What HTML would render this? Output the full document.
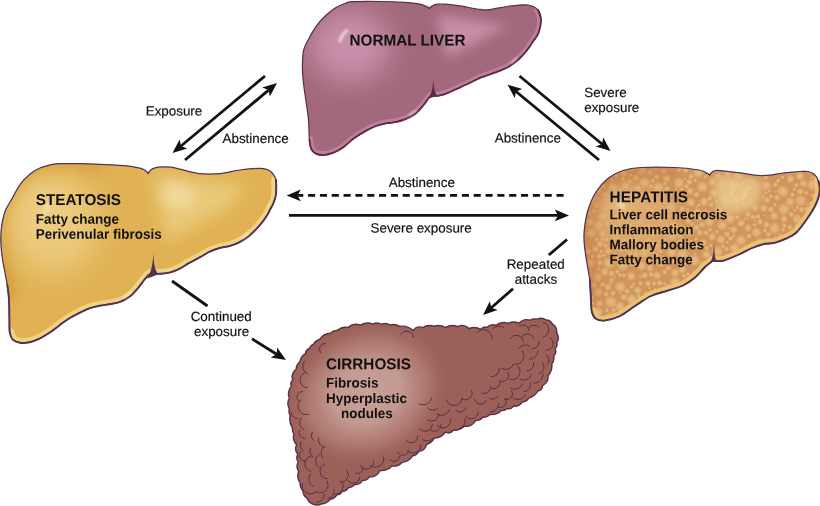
<!DOCTYPE html>
<html><head><meta charset="utf-8"><title>Alcoholic liver disease</title>
<style>
html,body{margin:0;padding:0;background:#fff;}
svg{display:block}
text{font-family:"Liberation Sans",Arial,Helvetica,sans-serif;fill:#111}
.h{font-weight:bold;font-size:15.3px}
.b{font-weight:bold;font-size:13.5px}
.l{font-size:13.4px;stroke:#111;stroke-width:0.18px}
</style></head><body>
<svg width="820" height="506" viewBox="0 0 820 506" style="will-change:transform">
<defs>
<radialGradient id="gC1" gradientUnits="userSpaceOnUse" cx="0" cy="0" r="1" gradientTransform="translate(367 393) rotate(-25) scale(88 73)"><stop offset="0" stop-color="#c9a199"/><stop offset="0.4" stop-color="#c39990"/><stop offset="0.7" stop-color="#b07b72" stop-opacity="0.85"/><stop offset="1" stop-color="#9b6058" stop-opacity="0"/></radialGradient>
<radialGradient id="sp"><stop offset="0" stop-color="#e4ba7e"/><stop offset="0.4" stop-color="#e2b67a" stop-opacity="0.95"/><stop offset="0.75" stop-color="#deae72" stop-opacity="0.55"/><stop offset="1" stop-color="#d9a468" stop-opacity="0"/></radialGradient>
<clipPath id="cN"><path d="M429.6 8.6 C430.2 8.1 431.8 6.1 433.0 5.4 C434.2 4.7 435.0 4.4 437.0 4.2 C439.0 4.0 441.2 3.9 445.0 4.2 C448.8 4.5 454.2 5.0 460.0 5.9 C465.8 6.8 475.0 8.8 480.0 9.4 C485.0 10.0 485.0 10.2 490.0 9.6 C495.0 9.0 503.7 6.8 510.0 6.0 C516.3 5.2 523.3 4.3 528.0 5.0 C532.7 5.7 535.8 7.5 538.0 10.0 C540.2 12.5 540.9 16.2 541.0 20.0 C541.1 23.8 539.8 29.4 538.5 33.0 C537.2 36.6 534.9 38.6 533.0 41.5 C531.1 44.4 529.3 47.4 527.0 50.3 C524.7 53.2 522.0 56.3 519.0 59.0 C516.0 61.7 512.2 64.5 509.0 66.5 C505.8 68.5 502.7 69.6 499.5 70.9 C496.3 72.2 493.2 73.2 490.0 74.3 C486.8 75.4 483.3 76.4 480.0 77.8 C476.7 79.2 473.5 81.1 470.0 82.8 C466.5 84.5 462.3 86.4 459.0 87.9 C455.7 89.4 452.5 90.9 450.0 92.0 C447.5 93.1 446.0 93.7 444.0 94.3 C442.0 94.9 440.0 95.6 438.0 95.8 C436.0 96.0 433.0 95.5 432.0 95.5 C431.5 95.8 430.4 95.9 429.0 97.6 C427.6 99.2 425.6 102.7 423.3 105.4 C421.0 108.1 418.4 111.5 415.4 113.8 C412.4 116.1 408.8 117.8 405.5 119.2 C402.2 120.6 398.9 121.5 395.6 122.2 C392.3 122.9 389.1 122.7 385.8 123.3 C382.5 123.9 379.6 124.6 376.0 126.0 C372.4 127.4 368.3 129.5 364.5 131.6 C360.7 133.7 356.8 136.2 353.3 138.8 C349.8 141.4 346.7 144.9 343.4 147.2 C340.1 149.5 336.8 151.4 333.5 152.7 C330.2 154.0 326.6 154.9 323.7 155.1 C320.8 155.2 317.9 154.6 315.8 153.6 C313.7 152.6 312.4 151.3 311.3 149.0 C310.2 146.7 309.9 144.4 309.4 139.6 C308.9 134.8 309.1 126.6 308.5 120.0 C307.9 113.4 306.7 106.5 305.8 100.0 C304.9 93.5 303.8 86.8 303.2 81.0 C302.6 75.2 302.3 70.2 302.4 65.0 C302.5 59.8 302.7 54.2 303.7 50.0 C304.7 45.8 306.2 43.7 308.3 39.7 C310.4 35.7 313.4 30.2 316.3 26.1 C319.2 22.0 322.7 18.4 326.0 15.3 C329.3 12.2 332.6 9.5 335.9 7.5 C339.2 5.5 342.8 4.2 345.6 3.2 C348.5 2.2 347.3 2.0 353.0 1.7 C358.7 1.4 371.3 1.4 380.0 1.5 C388.7 1.6 398.8 2.0 405.0 2.4 C411.2 2.8 413.8 3.2 417.0 3.7 C420.2 4.2 421.9 4.6 424.0 5.4 C426.1 6.2 428.7 8.1 429.6 8.6 Z"/></clipPath>
<clipPath id="cS"><path d="M148.0 173.3 C148.5 172.7 149.8 170.7 151.0 169.8 C152.2 168.9 153.2 168.3 155.0 167.8 C156.8 167.3 159.3 167.0 162.0 166.9 C164.7 166.8 167.8 166.8 171.0 167.2 C174.2 167.6 176.2 168.2 181.0 169.3 C185.8 170.4 193.5 172.9 200.0 173.6 C206.5 174.3 213.3 174.2 220.0 173.6 C226.7 173.0 233.3 170.9 240.0 170.0 C246.7 169.1 255.0 168.2 260.0 168.4 C265.0 168.6 267.3 169.1 270.0 171.0 C272.7 172.9 275.0 176.2 276.0 180.0 C277.0 183.8 276.4 190.2 276.0 194.0 C275.6 197.8 274.5 200.4 273.5 203.0 C272.5 205.6 271.1 207.5 270.0 209.6 C268.9 211.7 268.8 212.7 267.0 215.5 C265.2 218.3 262.0 222.8 259.0 226.2 C256.0 229.6 252.3 233.3 249.0 236.0 C245.7 238.7 242.4 240.6 239.2 242.3 C235.9 244.0 232.8 245.1 229.5 246.0 C226.2 246.9 223.0 247.1 219.7 248.0 C216.4 248.9 213.1 250.2 209.8 251.7 C206.5 253.2 203.4 255.3 200.0 257.2 C196.6 259.1 192.7 261.0 189.3 262.9 C185.9 264.8 182.7 267.2 179.4 268.8 C176.1 270.4 172.8 271.9 169.5 272.7 C166.2 273.5 162.1 273.6 159.6 273.8 C157.1 274.0 155.8 273.7 154.5 273.6 C153.2 273.5 152.0 273.4 151.5 273.3 C151.0 273.6 149.5 274.2 148.3 275.3 C147.1 276.4 146.0 277.7 144.2 280.0 C142.4 282.3 139.8 286.1 137.3 288.9 C134.8 291.7 132.4 294.6 129.4 296.8 C126.4 299.0 122.8 301.0 119.5 302.2 C116.2 303.4 112.9 303.6 109.6 304.2 C106.3 304.8 103.1 305.0 99.8 305.7 C96.5 306.4 93.2 307.0 89.9 308.2 C86.6 309.4 83.5 310.9 80.0 312.6 C76.5 314.3 72.5 316.4 69.1 318.5 C65.6 320.6 62.6 323.0 59.3 325.4 C56.0 327.8 52.7 330.6 49.4 332.8 C46.1 335.0 42.8 337.1 39.5 338.7 C36.2 340.3 32.9 341.5 29.6 342.2 C26.3 342.9 22.6 343.1 19.8 342.7 C17.0 342.3 14.5 341.4 12.8 339.7 C11.1 338.0 10.4 335.9 9.8 332.6 C9.2 329.3 9.5 325.2 9.4 319.8 C9.3 314.4 9.3 305.8 9.0 300.0 C8.7 294.2 8.1 290.0 7.3 285.0 C6.5 280.0 5.3 274.5 4.5 270.0 C3.7 265.5 2.8 261.7 2.3 258.0 C1.8 254.3 1.4 251.2 1.2 248.0 C0.9 244.8 0.8 242.0 0.8 239.0 C0.8 236.0 0.9 233.2 1.2 230.0 C1.5 226.8 2.0 223.3 2.7 220.0 C3.4 216.7 4.3 213.1 5.6 210.0 C6.9 206.9 8.0 205.6 10.5 201.3 C13.0 197.0 17.1 188.7 20.4 184.1 C23.7 179.5 26.9 176.6 30.1 173.9 C33.4 171.2 36.6 169.5 39.9 168.0 C43.1 166.5 46.4 165.8 49.6 165.1 C52.9 164.4 54.3 163.8 59.4 163.6 C64.5 163.4 73.2 163.6 80.0 163.7 C86.8 163.8 93.3 164.0 100.0 164.3 C106.7 164.6 114.8 165.0 120.0 165.3 C125.2 165.6 127.7 165.8 131.0 166.3 C134.3 166.8 137.7 167.5 140.0 168.2 C142.3 168.9 143.7 169.5 145.0 170.3 C146.3 171.2 147.5 172.8 148.0 173.3 Z"/></clipPath>
<clipPath id="cH"><path d="M709.5 175.0 C710.0 174.5 711.4 172.6 712.5 171.8 C713.6 171.1 713.6 170.6 716.0 170.5 C718.4 170.4 723.0 170.9 727.0 171.3 C731.0 171.7 736.2 172.3 740.0 172.8 C743.8 173.3 746.7 174.0 750.0 174.4 C753.3 174.8 756.7 175.4 760.0 175.5 C763.3 175.6 766.7 175.5 770.0 175.2 C773.3 174.9 776.7 174.0 780.0 173.5 C783.3 173.0 786.7 172.6 790.0 172.3 C793.3 172.0 797.0 171.6 800.0 171.5 C803.0 171.4 805.6 171.0 808.0 171.5 C810.4 172.0 812.8 172.9 814.5 174.5 C816.2 176.1 817.6 178.6 818.5 181.0 C819.4 183.4 819.8 186.2 819.8 189.0 C819.8 191.8 819.2 195.0 818.3 198.0 C817.4 201.0 816.2 203.8 814.5 207.0 C812.8 210.2 811.0 213.2 808.0 217.5 C805.0 221.8 800.2 228.9 796.4 232.5 C792.6 236.1 789.1 237.2 785.4 238.9 C781.7 240.6 778.0 242.0 774.3 242.9 C770.6 243.8 766.9 243.3 763.2 244.2 C759.5 245.0 756.1 246.3 752.1 248.0 C748.1 249.7 743.7 252.4 739.0 254.5 C734.3 256.6 727.7 259.4 724.0 260.5 C720.3 261.6 718.8 261.0 717.0 261.0 C715.2 261.0 713.7 260.6 713.0 260.5 C711.7 261.6 708.0 264.2 705.0 267.0 C702.0 269.8 698.7 274.4 695.0 277.5 C691.3 280.6 687.7 283.3 683.0 285.5 C678.3 287.7 672.3 289.1 667.0 290.8 C661.7 292.6 656.3 293.5 651.0 296.0 C645.7 298.5 640.3 302.6 635.0 306.0 C629.7 309.4 624.2 314.1 619.0 316.5 C613.8 318.9 607.9 320.3 604.0 320.6 C600.1 320.9 597.5 320.0 595.5 318.5 C593.5 317.0 592.5 314.6 591.8 311.5 C591.0 308.4 591.3 305.2 591.0 300.0 C590.7 294.8 590.6 286.7 589.8 280.0 C589.0 273.3 587.3 266.2 586.4 260.0 C585.5 253.8 584.6 248.0 584.2 243.0 C583.9 238.0 583.7 235.5 584.3 230.0 C584.9 224.5 586.0 216.3 588.0 210.0 C590.0 203.7 592.6 197.3 596.0 192.0 C599.4 186.7 604.0 181.6 608.5 178.0 C613.0 174.4 617.6 172.2 623.0 170.5 C628.4 168.8 632.3 168.0 641.0 167.5 C649.7 167.0 665.3 167.1 675.0 167.5 C684.7 167.9 694.0 169.2 699.0 170.0 C704.0 170.8 703.2 171.2 705.0 172.0 C706.8 172.8 708.8 174.5 709.5 175.0 Z"/></clipPath>
<clipPath id="cC"><path d="M413.0 330.5 A8.8 8.8 0 0 1 422.9 327.5 A12.6 12.6 0 0 1 433.9 326.2 A13.4 13.4 0 0 1 445.4 327.5 A14.9 14.9 0 0 1 457.9 326.6 A9.1 9.1 0 0 1 468.9 328.6 A14.7 14.7 0 0 1 480.9 329.3 A5.2 5.2 0 0 1 486.8 327.4 A8.8 8.8 0 0 1 495.8 325.3 A13.5 13.5 0 0 1 508.2 323.4 A12.8 12.8 0 0 1 518.8 323.2 A11.4 11.4 0 0 1 530.3 320.2 A8.3 8.3 0 0 1 537.0 319.2 A9.7 9.7 0 0 1 546.2 320.0 A7.1 7.1 0 0 1 552.5 324.2 A9.2 9.2 0 0 1 556.7 333.0 A8.7 8.7 0 0 1 556.6 342.9 A5.1 5.1 0 0 1 555.1 348.8 A6.5 6.5 0 0 1 553.6 356.2 A8.8 8.8 0 0 1 551.8 363.9 A15.5 15.5 0 0 1 548.0 375.7 A9.9 9.9 0 0 1 542.5 385.6 A5.8 5.8 0 0 1 537.8 391.0 A14.4 14.4 0 0 1 528.7 398.1 A7.2 7.2 0 0 1 522.7 401.7 A10.1 10.1 0 0 1 513.4 406.3 A6.2 6.2 0 0 1 507.0 408.6 A6.4 6.4 0 0 1 501.3 410.5 A14.2 14.2 0 0 1 489.8 414.5 A7.5 7.5 0 0 1 482.9 417.1 A7.4 7.4 0 0 1 476.0 420.3 A10.6 10.6 0 0 1 464.5 426.0 A14.6 14.6 0 0 1 453.2 430.2 A6.5 6.5 0 0 1 445.4 432.2 A12.9 12.9 0 0 1 434.2 437.9 A11.5 11.5 0 0 1 426.7 444.2 A9.2 9.2 0 0 1 418.7 451.4 A8.4 8.4 0 0 1 412.7 455.8 A15.4 15.4 0 0 1 402.0 462.4 A11.7 11.7 0 0 1 391.9 466.0 A14.7 14.7 0 0 1 380.0 470.5 A10.4 10.4 0 0 1 369.4 476.8 A8.1 8.1 0 0 1 362.3 480.5 A7.4 7.4 0 0 1 354.7 484.4 A8.5 8.5 0 0 1 348.3 487.7 A6.5 6.5 0 0 1 342.3 491.2 A6.5 6.5 0 0 1 336.9 494.9 A10.1 10.1 0 0 1 330.2 499.4 A12.0 12.0 0 0 1 321.1 504.0 A7.4 7.4 0 0 1 315.2 504.7 A10.6 10.6 0 0 1 307.0 498.2 A8.5 8.5 0 0 1 303.0 490.9 A9.2 9.2 0 0 1 300.3 483.1 A11.9 11.9 0 0 1 298.7 471.5 A8.7 8.7 0 0 1 298.2 462.2 A8.1 8.1 0 0 1 297.8 454.0 A8.1 8.1 0 0 1 296.7 444.7 A10.6 10.6 0 0 1 294.0 434.1 A8.0 8.0 0 0 1 292.5 427.9 A15.8 15.8 0 0 1 290.3 415.3 A6.7 6.7 0 0 1 289.4 409.1 A11.5 11.5 0 0 1 289.4 398.0 A11.3 11.3 0 0 1 291.4 386.2 A5.1 5.1 0 0 1 292.6 380.2 A10.6 10.6 0 0 1 296.2 369.3 A9.9 9.9 0 0 1 300.1 361.7 A12.0 12.0 0 0 1 305.6 353.3 A5.8 5.8 0 0 1 309.4 348.5 A7.3 7.3 0 0 1 313.8 344.0 A8.3 8.3 0 0 1 319.5 339.5 A14.1 14.1 0 0 1 330.5 333.2 A8.1 8.1 0 0 1 337.4 330.4 A12.9 12.9 0 0 1 348.2 327.4 A12.0 12.0 0 0 1 360.5 325.1 A14.1 14.1 0 0 1 373.1 324.2 A7.8 7.8 0 0 1 381.5 324.4 A8.6 8.6 0 0 1 389.9 325.1 A11.1 11.1 0 0 1 399.5 326.4 A15.7 15.7 0 0 1 413.0 330.5 Z"/></clipPath>
<filter id="b16" x="-50%" y="-50%" width="200%" height="200%"><feGaussianBlur stdDeviation="14"/></filter>
<filter id="b6" x="-50%" y="-50%" width="200%" height="200%"><feGaussianBlur stdDeviation="6"/></filter>
<filter id="b8" x="-50%" y="-50%" width="200%" height="200%"><feGaussianBlur stdDeviation="7.5"/></filter>
<filter id="b2" x="-100%" y="-100%" width="300%" height="300%"><feGaussianBlur stdDeviation="2"/></filter>
<filter id="b1" x="-50%" y="-50%" width="200%" height="200%"><feGaussianBlur stdDeviation="0.9"/></filter>
</defs>
<rect width="820" height="506" fill="#fff"/>

<!-- normal liver -->
<g>
<path d="M429.6 8.6 C430.2 8.1 431.8 6.1 433.0 5.4 C434.2 4.7 435.0 4.4 437.0 4.2 C439.0 4.0 441.2 3.9 445.0 4.2 C448.8 4.5 454.2 5.0 460.0 5.9 C465.8 6.8 475.0 8.8 480.0 9.4 C485.0 10.0 485.0 10.2 490.0 9.6 C495.0 9.0 503.7 6.8 510.0 6.0 C516.3 5.2 523.3 4.3 528.0 5.0 C532.7 5.7 535.8 7.5 538.0 10.0 C540.2 12.5 540.9 16.2 541.0 20.0 C541.1 23.8 539.8 29.4 538.5 33.0 C537.2 36.6 534.9 38.6 533.0 41.5 C531.1 44.4 529.3 47.4 527.0 50.3 C524.7 53.2 522.0 56.3 519.0 59.0 C516.0 61.7 512.2 64.5 509.0 66.5 C505.8 68.5 502.7 69.6 499.5 70.9 C496.3 72.2 493.2 73.2 490.0 74.3 C486.8 75.4 483.3 76.4 480.0 77.8 C476.7 79.2 473.5 81.1 470.0 82.8 C466.5 84.5 462.3 86.4 459.0 87.9 C455.7 89.4 452.5 90.9 450.0 92.0 C447.5 93.1 446.0 93.7 444.0 94.3 C442.0 94.9 440.0 95.6 438.0 95.8 C436.0 96.0 433.0 95.5 432.0 95.5 C431.5 95.8 430.4 95.9 429.0 97.6 C427.6 99.2 425.6 102.7 423.3 105.4 C421.0 108.1 418.4 111.5 415.4 113.8 C412.4 116.1 408.8 117.8 405.5 119.2 C402.2 120.6 398.9 121.5 395.6 122.2 C392.3 122.9 389.1 122.7 385.8 123.3 C382.5 123.9 379.6 124.6 376.0 126.0 C372.4 127.4 368.3 129.5 364.5 131.6 C360.7 133.7 356.8 136.2 353.3 138.8 C349.8 141.4 346.7 144.9 343.4 147.2 C340.1 149.5 336.8 151.4 333.5 152.7 C330.2 154.0 326.6 154.9 323.7 155.1 C320.8 155.2 317.9 154.6 315.8 153.6 C313.7 152.6 312.4 151.3 311.3 149.0 C310.2 146.7 309.9 144.4 309.4 139.6 C308.9 134.8 309.1 126.6 308.5 120.0 C307.9 113.4 306.7 106.5 305.8 100.0 C304.9 93.5 303.8 86.8 303.2 81.0 C302.6 75.2 302.3 70.2 302.4 65.0 C302.5 59.8 302.7 54.2 303.7 50.0 C304.7 45.8 306.2 43.7 308.3 39.7 C310.4 35.7 313.4 30.2 316.3 26.1 C319.2 22.0 322.7 18.4 326.0 15.3 C329.3 12.2 332.6 9.5 335.9 7.5 C339.2 5.5 342.8 4.2 345.6 3.2 C348.5 2.2 347.3 2.0 353.0 1.7 C358.7 1.4 371.3 1.4 380.0 1.5 C388.7 1.6 398.8 2.0 405.0 2.4 C411.2 2.8 413.8 3.2 417.0 3.7 C420.2 4.2 421.9 4.6 424.0 5.4 C426.1 6.2 428.7 8.1 429.6 8.6 Z" fill="#a2687b"/>
<g clip-path="url(#cN)">
<ellipse cx="350" cy="46" rx="40" ry="36" fill="#c990ab" filter="url(#b16)"/>
<path d="M436 14 L508 26 L447 58 Z" fill="#c68ea8" filter="url(#b6)"/>
<path d="M538.0 10.0 C538.5 11.7 540.9 16.2 541.0 20.0 C541.1 23.8 539.8 29.4 538.5 33.0 C537.2 36.6 534.9 38.6 533.0 41.5 C531.1 44.4 529.3 47.4 527.0 50.3 C524.7 53.2 522.0 56.3 519.0 59.0 C516.0 61.7 512.2 64.5 509.0 66.5 C505.8 68.5 502.7 69.6 499.5 70.9 C496.3 72.2 493.2 73.2 490.0 74.3 C486.8 75.4 483.3 76.4 480.0 77.8 C476.7 79.2 473.5 81.1 470.0 82.8 C466.5 84.5 462.3 86.4 459.0 87.9 C455.7 89.4 452.5 90.9 450.0 92.0 C447.5 93.1 446.0 93.7 444.0 94.3 C442.0 94.9 440.0 95.6 438.0 95.8 C436.0 96.0 433.0 95.5 432.0 95.5" fill="none" stroke="#bf7f9c" stroke-width="7.5" stroke-linecap="round"/><path d="M432.0 95.5 C431.5 95.8 430.4 95.9 429.0 97.6 C427.6 99.2 425.6 102.7 423.3 105.4 C421.0 108.1 418.4 111.5 415.4 113.8 C412.4 116.1 408.8 117.8 405.5 119.2 C402.2 120.6 398.9 121.5 395.6 122.2 C392.3 122.9 389.1 122.7 385.8 123.3 C382.5 123.9 379.6 124.6 376.0 126.0 C372.4 127.4 368.3 129.5 364.5 131.6 C360.7 133.7 356.8 136.2 353.3 138.8 C349.8 141.4 346.7 144.9 343.4 147.2 C340.1 149.5 336.8 151.4 333.5 152.7 C330.2 154.0 326.6 154.9 323.7 155.1 C320.8 155.2 317.9 154.6 315.8 153.6 C313.7 152.6 312.4 151.3 311.3 149.0 C310.2 146.7 309.7 141.2 309.4 139.6" fill="none" stroke="#bf7f9c" stroke-width="7.5" stroke-linecap="round"/></g>
<path d="M426.4 5.0 Q428.8 6.0 429.8 9.6 Q430.2 5.8 433.2 4.4 Q430.4 5.2 429.6 7.4 Q428.8 5.8 426.4 5.0Z" fill="#5e2c48"/><path d="M433.7 78 C433.8 86 434 92 437.5 96 L428.5 98.5 C432 93 433 86 433.7 78Z" fill="#5e2c48"/>
<path d="M429.6 8.6 C430.2 8.1 431.8 6.1 433.0 5.4 C434.2 4.7 435.0 4.4 437.0 4.2 C439.0 4.0 441.2 3.9 445.0 4.2 C448.8 4.5 454.2 5.0 460.0 5.9 C465.8 6.8 475.0 8.8 480.0 9.4 C485.0 10.0 485.0 10.2 490.0 9.6 C495.0 9.0 503.7 6.8 510.0 6.0 C516.3 5.2 523.3 4.3 528.0 5.0 C532.7 5.7 535.8 7.5 538.0 10.0 C540.2 12.5 540.9 16.2 541.0 20.0 C541.1 23.8 539.8 29.4 538.5 33.0 C537.2 36.6 534.9 38.6 533.0 41.5 C531.1 44.4 529.3 47.4 527.0 50.3 C524.7 53.2 522.0 56.3 519.0 59.0 C516.0 61.7 512.2 64.5 509.0 66.5 C505.8 68.5 502.7 69.6 499.5 70.9 C496.3 72.2 493.2 73.2 490.0 74.3 C486.8 75.4 483.3 76.4 480.0 77.8 C476.7 79.2 473.5 81.1 470.0 82.8 C466.5 84.5 462.3 86.4 459.0 87.9 C455.7 89.4 452.5 90.9 450.0 92.0 C447.5 93.1 446.0 93.7 444.0 94.3 C442.0 94.9 440.0 95.6 438.0 95.8 C436.0 96.0 433.0 95.5 432.0 95.5 C431.5 95.8 430.4 95.9 429.0 97.6 C427.6 99.2 425.6 102.7 423.3 105.4 C421.0 108.1 418.4 111.5 415.4 113.8 C412.4 116.1 408.8 117.8 405.5 119.2 C402.2 120.6 398.9 121.5 395.6 122.2 C392.3 122.9 389.1 122.7 385.8 123.3 C382.5 123.9 379.6 124.6 376.0 126.0 C372.4 127.4 368.3 129.5 364.5 131.6 C360.7 133.7 356.8 136.2 353.3 138.8 C349.8 141.4 346.7 144.9 343.4 147.2 C340.1 149.5 336.8 151.4 333.5 152.7 C330.2 154.0 326.6 154.9 323.7 155.1 C320.8 155.2 317.9 154.6 315.8 153.6 C313.7 152.6 312.4 151.3 311.3 149.0 C310.2 146.7 309.9 144.4 309.4 139.6 C308.9 134.8 309.1 126.6 308.5 120.0 C307.9 113.4 306.7 106.5 305.8 100.0 C304.9 93.5 303.8 86.8 303.2 81.0 C302.6 75.2 302.3 70.2 302.4 65.0 C302.5 59.8 302.7 54.2 303.7 50.0 C304.7 45.8 306.2 43.7 308.3 39.7 C310.4 35.7 313.4 30.2 316.3 26.1 C319.2 22.0 322.7 18.4 326.0 15.3 C329.3 12.2 332.6 9.5 335.9 7.5 C339.2 5.5 342.8 4.2 345.6 3.2 C348.5 2.2 347.3 2.0 353.0 1.7 C358.7 1.4 371.3 1.4 380.0 1.5 C388.7 1.6 398.8 2.0 405.0 2.4 C411.2 2.8 413.8 3.2 417.0 3.7 C420.2 4.2 421.9 4.6 424.0 5.4 C426.1 6.2 428.7 8.1 429.6 8.6 Z" fill="none" stroke="#5e2c48" stroke-width="1.2" stroke-linejoin="round"/>
<path d="M538.0 10.0 C538.5 11.7 540.9 16.2 541.0 20.0 C541.1 23.8 539.8 29.4 538.5 33.0 C537.2 36.6 534.9 38.6 533.0 41.5 C531.1 44.4 529.3 47.4 527.0 50.3 C524.7 53.2 522.0 56.3 519.0 59.0 C516.0 61.7 512.2 64.5 509.0 66.5 C505.8 68.5 502.7 69.6 499.5 70.9 C496.3 72.2 493.2 73.2 490.0 74.3 C486.8 75.4 483.3 76.4 480.0 77.8 C476.7 79.2 473.5 81.1 470.0 82.8 C466.5 84.5 462.3 86.4 459.0 87.9 C455.7 89.4 452.5 90.9 450.0 92.0 C447.5 93.1 446.0 93.7 444.0 94.3 C442.0 94.9 440.0 95.6 438.0 95.8 C436.0 96.0 433.0 95.5 432.0 95.5" fill="none" stroke="#5e2c48" stroke-width="1.8" stroke-linecap="round"/><path d="M432.0 95.5 C431.5 95.8 430.4 95.9 429.0 97.6 C427.6 99.2 425.6 102.7 423.3 105.4 C421.0 108.1 418.4 111.5 415.4 113.8 C412.4 116.1 408.8 117.8 405.5 119.2 C402.2 120.6 398.9 121.5 395.6 122.2 C392.3 122.9 389.1 122.7 385.8 123.3 C382.5 123.9 379.6 124.6 376.0 126.0 C372.4 127.4 368.3 129.5 364.5 131.6 C360.7 133.7 356.8 136.2 353.3 138.8 C349.8 141.4 346.7 144.9 343.4 147.2 C340.1 149.5 336.8 151.4 333.5 152.7 C330.2 154.0 326.6 154.9 323.7 155.1 C320.8 155.2 317.9 154.6 315.8 153.6 C313.7 152.6 312.4 151.3 311.3 149.0 C310.2 146.7 309.7 141.2 309.4 139.6" fill="none" stroke="#5e2c48" stroke-width="1.8" stroke-linecap="round"/>
<path d="M340 41 C341.2 36.5 343.5 33 346.8 30.8" fill="none" stroke="#ebccd9" stroke-width="3.2" stroke-linecap="round" filter="url(#b1)"/>
<path d="M511.5 63.3 L516.3 58" fill="none" stroke="#e3bccb" stroke-width="1.6" stroke-linecap="round" filter="url(#b1)"/>
<path d="M409.5 115 L415.5 110.5" fill="none" stroke="#e3bccb" stroke-width="1.6" stroke-linecap="round" filter="url(#b1)"/>
</g>

<!-- steatosis -->
<g>
<path d="M148.0 173.3 C148.5 172.7 149.8 170.7 151.0 169.8 C152.2 168.9 153.2 168.3 155.0 167.8 C156.8 167.3 159.3 167.0 162.0 166.9 C164.7 166.8 167.8 166.8 171.0 167.2 C174.2 167.6 176.2 168.2 181.0 169.3 C185.8 170.4 193.5 172.9 200.0 173.6 C206.5 174.3 213.3 174.2 220.0 173.6 C226.7 173.0 233.3 170.9 240.0 170.0 C246.7 169.1 255.0 168.2 260.0 168.4 C265.0 168.6 267.3 169.1 270.0 171.0 C272.7 172.9 275.0 176.2 276.0 180.0 C277.0 183.8 276.4 190.2 276.0 194.0 C275.6 197.8 274.5 200.4 273.5 203.0 C272.5 205.6 271.1 207.5 270.0 209.6 C268.9 211.7 268.8 212.7 267.0 215.5 C265.2 218.3 262.0 222.8 259.0 226.2 C256.0 229.6 252.3 233.3 249.0 236.0 C245.7 238.7 242.4 240.6 239.2 242.3 C235.9 244.0 232.8 245.1 229.5 246.0 C226.2 246.9 223.0 247.1 219.7 248.0 C216.4 248.9 213.1 250.2 209.8 251.7 C206.5 253.2 203.4 255.3 200.0 257.2 C196.6 259.1 192.7 261.0 189.3 262.9 C185.9 264.8 182.7 267.2 179.4 268.8 C176.1 270.4 172.8 271.9 169.5 272.7 C166.2 273.5 162.1 273.6 159.6 273.8 C157.1 274.0 155.8 273.7 154.5 273.6 C153.2 273.5 152.0 273.4 151.5 273.3 C151.0 273.6 149.5 274.2 148.3 275.3 C147.1 276.4 146.0 277.7 144.2 280.0 C142.4 282.3 139.8 286.1 137.3 288.9 C134.8 291.7 132.4 294.6 129.4 296.8 C126.4 299.0 122.8 301.0 119.5 302.2 C116.2 303.4 112.9 303.6 109.6 304.2 C106.3 304.8 103.1 305.0 99.8 305.7 C96.5 306.4 93.2 307.0 89.9 308.2 C86.6 309.4 83.5 310.9 80.0 312.6 C76.5 314.3 72.5 316.4 69.1 318.5 C65.6 320.6 62.6 323.0 59.3 325.4 C56.0 327.8 52.7 330.6 49.4 332.8 C46.1 335.0 42.8 337.1 39.5 338.7 C36.2 340.3 32.9 341.5 29.6 342.2 C26.3 342.9 22.6 343.1 19.8 342.7 C17.0 342.3 14.5 341.4 12.8 339.7 C11.1 338.0 10.4 335.9 9.8 332.6 C9.2 329.3 9.5 325.2 9.4 319.8 C9.3 314.4 9.3 305.8 9.0 300.0 C8.7 294.2 8.1 290.0 7.3 285.0 C6.5 280.0 5.3 274.5 4.5 270.0 C3.7 265.5 2.8 261.7 2.3 258.0 C1.8 254.3 1.4 251.2 1.2 248.0 C0.9 244.8 0.8 242.0 0.8 239.0 C0.8 236.0 0.9 233.2 1.2 230.0 C1.5 226.8 2.0 223.3 2.7 220.0 C3.4 216.7 4.3 213.1 5.6 210.0 C6.9 206.9 8.0 205.6 10.5 201.3 C13.0 197.0 17.1 188.7 20.4 184.1 C23.7 179.5 26.9 176.6 30.1 173.9 C33.4 171.2 36.6 169.5 39.9 168.0 C43.1 166.5 46.4 165.8 49.6 165.1 C52.9 164.4 54.3 163.8 59.4 163.6 C64.5 163.4 73.2 163.6 80.0 163.7 C86.8 163.8 93.3 164.0 100.0 164.3 C106.7 164.6 114.8 165.0 120.0 165.3 C125.2 165.6 127.7 165.8 131.0 166.3 C134.3 166.8 137.7 167.5 140.0 168.2 C142.3 168.9 143.7 169.5 145.0 170.3 C146.3 171.2 147.5 172.8 148.0 173.3 Z" fill="#e0b254"/>
<g clip-path="url(#cS)">
<path d="M9.0 300.0 C8.7 297.5 8.1 290.0 7.3 285.0 C6.5 280.0 5.3 274.5 4.5 270.0 C3.7 265.5 2.8 261.7 2.3 258.0 C1.8 254.3 1.4 251.2 1.2 248.0 C0.9 244.8 0.8 242.0 0.8 239.0 C0.8 236.0 0.9 233.2 1.2 230.0 C1.5 226.8 2.0 223.3 2.7 220.0 C3.4 216.7 4.3 213.1 5.6 210.0 C6.9 206.9 8.0 205.6 10.5 201.3 C13.0 197.0 17.1 188.7 20.4 184.1 C23.7 179.5 26.9 176.6 30.1 173.9 C33.4 171.2 36.6 169.5 39.9 168.0 C43.1 166.5 46.4 165.8 49.6 165.1 C52.9 164.4 54.3 163.8 59.4 163.6 C64.5 163.4 73.2 163.6 80.0 163.7 C86.8 163.8 96.7 164.2 100.0 164.3" fill="none" stroke="#d39a38" stroke-width="16" opacity="0.75" filter="url(#b6)"/>
<ellipse cx="54" cy="224" rx="46" ry="50" fill="#ebc97c" filter="url(#b16)"/>
<ellipse cx="46" cy="214" rx="22" ry="26" fill="#edcf88" opacity="0.8" filter="url(#b16)"/>
<path d="M152 174 L246 185 L230 206 L167 242 Z" fill="#e9c978" filter="url(#b8)"/>
<ellipse cx="178" cy="196" rx="17" ry="12" fill="#f1d99c" filter="url(#b6)" transform="rotate(15 178 196)"/>
<ellipse cx="46.5" cy="208.5" rx="2" ry="5" fill="#f8e9c2" opacity="0.85" filter="url(#b2)" transform="rotate(12 46.5 208.5)"/>
<path d="M276.0 180.0 C276.0 182.3 276.4 190.2 276.0 194.0 C275.6 197.8 274.5 200.4 273.5 203.0 C272.5 205.6 271.1 207.5 270.0 209.6 C268.9 211.7 268.8 212.7 267.0 215.5 C265.2 218.3 262.0 222.8 259.0 226.2 C256.0 229.6 252.3 233.3 249.0 236.0 C245.7 238.7 242.4 240.6 239.2 242.3 C235.9 244.0 232.8 245.1 229.5 246.0 C226.2 246.9 223.0 247.1 219.7 248.0 C216.4 248.9 213.1 250.2 209.8 251.7 C206.5 253.2 203.4 255.3 200.0 257.2 C196.6 259.1 192.7 261.0 189.3 262.9 C185.9 264.8 182.7 267.2 179.4 268.8 C176.1 270.4 172.8 271.9 169.5 272.7 C166.2 273.5 162.1 273.6 159.6 273.8 C157.1 274.0 155.8 273.7 154.5 273.6 C153.2 273.5 152.0 273.4 151.5 273.3" fill="none" stroke="#efd383" stroke-width="9.5" stroke-linecap="round"/><path d="M151.5 273.3 C151.0 273.6 149.5 274.2 148.3 275.3 C147.1 276.4 146.0 277.7 144.2 280.0 C142.4 282.3 139.8 286.1 137.3 288.9 C134.8 291.7 132.4 294.6 129.4 296.8 C126.4 299.0 122.8 301.0 119.5 302.2 C116.2 303.4 112.9 303.6 109.6 304.2 C106.3 304.8 103.1 305.0 99.8 305.7 C96.5 306.4 93.2 307.0 89.9 308.2 C86.6 309.4 83.5 310.9 80.0 312.6 C76.5 314.3 72.5 316.4 69.1 318.5 C65.6 320.6 62.6 323.0 59.3 325.4 C56.0 327.8 52.7 330.6 49.4 332.8 C46.1 335.0 42.8 337.1 39.5 338.7 C36.2 340.3 32.9 341.5 29.6 342.2 C26.3 342.9 22.6 343.1 19.8 342.7 C17.0 342.3 14.5 341.4 12.8 339.7 C11.1 338.0 10.3 333.8 9.8 332.6" fill="none" stroke="#efd383" stroke-width="9.5" stroke-linecap="round"/></g>
<path d="M144.8 170.3 Q147.2 171.3 148.2 174.9 Q148.6 171.1 151.6 169.7 Q148.8 170.5 148.0 172.7 Q147.2 171.1 144.8 170.3Z" fill="#523256"/><path d="M153.5 253.3 C153.8 263 154.5 270 158.5 274.3 L147 278.8 C151.5 272 152.8 263 153.5 253.3Z" fill="#523256"/>
<path d="M148.0 173.3 C148.5 172.7 149.8 170.7 151.0 169.8 C152.2 168.9 153.2 168.3 155.0 167.8 C156.8 167.3 159.3 167.0 162.0 166.9 C164.7 166.8 167.8 166.8 171.0 167.2 C174.2 167.6 176.2 168.2 181.0 169.3 C185.8 170.4 193.5 172.9 200.0 173.6 C206.5 174.3 213.3 174.2 220.0 173.6 C226.7 173.0 233.3 170.9 240.0 170.0 C246.7 169.1 255.0 168.2 260.0 168.4 C265.0 168.6 267.3 169.1 270.0 171.0 C272.7 172.9 275.0 176.2 276.0 180.0 C277.0 183.8 276.4 190.2 276.0 194.0 C275.6 197.8 274.5 200.4 273.5 203.0 C272.5 205.6 271.1 207.5 270.0 209.6 C268.9 211.7 268.8 212.7 267.0 215.5 C265.2 218.3 262.0 222.8 259.0 226.2 C256.0 229.6 252.3 233.3 249.0 236.0 C245.7 238.7 242.4 240.6 239.2 242.3 C235.9 244.0 232.8 245.1 229.5 246.0 C226.2 246.9 223.0 247.1 219.7 248.0 C216.4 248.9 213.1 250.2 209.8 251.7 C206.5 253.2 203.4 255.3 200.0 257.2 C196.6 259.1 192.7 261.0 189.3 262.9 C185.9 264.8 182.7 267.2 179.4 268.8 C176.1 270.4 172.8 271.9 169.5 272.7 C166.2 273.5 162.1 273.6 159.6 273.8 C157.1 274.0 155.8 273.7 154.5 273.6 C153.2 273.5 152.0 273.4 151.5 273.3 C151.0 273.6 149.5 274.2 148.3 275.3 C147.1 276.4 146.0 277.7 144.2 280.0 C142.4 282.3 139.8 286.1 137.3 288.9 C134.8 291.7 132.4 294.6 129.4 296.8 C126.4 299.0 122.8 301.0 119.5 302.2 C116.2 303.4 112.9 303.6 109.6 304.2 C106.3 304.8 103.1 305.0 99.8 305.7 C96.5 306.4 93.2 307.0 89.9 308.2 C86.6 309.4 83.5 310.9 80.0 312.6 C76.5 314.3 72.5 316.4 69.1 318.5 C65.6 320.6 62.6 323.0 59.3 325.4 C56.0 327.8 52.7 330.6 49.4 332.8 C46.1 335.0 42.8 337.1 39.5 338.7 C36.2 340.3 32.9 341.5 29.6 342.2 C26.3 342.9 22.6 343.1 19.8 342.7 C17.0 342.3 14.5 341.4 12.8 339.7 C11.1 338.0 10.4 335.9 9.8 332.6 C9.2 329.3 9.5 325.2 9.4 319.8 C9.3 314.4 9.3 305.8 9.0 300.0 C8.7 294.2 8.1 290.0 7.3 285.0 C6.5 280.0 5.3 274.5 4.5 270.0 C3.7 265.5 2.8 261.7 2.3 258.0 C1.8 254.3 1.4 251.2 1.2 248.0 C0.9 244.8 0.8 242.0 0.8 239.0 C0.8 236.0 0.9 233.2 1.2 230.0 C1.5 226.8 2.0 223.3 2.7 220.0 C3.4 216.7 4.3 213.1 5.6 210.0 C6.9 206.9 8.0 205.6 10.5 201.3 C13.0 197.0 17.1 188.7 20.4 184.1 C23.7 179.5 26.9 176.6 30.1 173.9 C33.4 171.2 36.6 169.5 39.9 168.0 C43.1 166.5 46.4 165.8 49.6 165.1 C52.9 164.4 54.3 163.8 59.4 163.6 C64.5 163.4 73.2 163.6 80.0 163.7 C86.8 163.8 93.3 164.0 100.0 164.3 C106.7 164.6 114.8 165.0 120.0 165.3 C125.2 165.6 127.7 165.8 131.0 166.3 C134.3 166.8 137.7 167.5 140.0 168.2 C142.3 168.9 143.7 169.5 145.0 170.3 C146.3 171.2 147.5 172.8 148.0 173.3 Z" fill="none" stroke="#523256" stroke-width="1.25" stroke-linejoin="round"/>
<path d="M276.0 180.0 C276.0 182.3 276.4 190.2 276.0 194.0 C275.6 197.8 274.5 200.4 273.5 203.0 C272.5 205.6 271.1 207.5 270.0 209.6 C268.9 211.7 268.8 212.7 267.0 215.5 C265.2 218.3 262.0 222.8 259.0 226.2 C256.0 229.6 252.3 233.3 249.0 236.0 C245.7 238.7 242.4 240.6 239.2 242.3 C235.9 244.0 232.8 245.1 229.5 246.0 C226.2 246.9 223.0 247.1 219.7 248.0 C216.4 248.9 213.1 250.2 209.8 251.7 C206.5 253.2 203.4 255.3 200.0 257.2 C196.6 259.1 192.7 261.0 189.3 262.9 C185.9 264.8 182.7 267.2 179.4 268.8 C176.1 270.4 172.8 271.9 169.5 272.7 C166.2 273.5 162.1 273.6 159.6 273.8 C157.1 274.0 155.8 273.7 154.5 273.6 C153.2 273.5 152.0 273.4 151.5 273.3" fill="none" stroke="#523256" stroke-width="1.9" stroke-linecap="round"/><path d="M151.5 273.3 C151.0 273.6 149.5 274.2 148.3 275.3 C147.1 276.4 146.0 277.7 144.2 280.0 C142.4 282.3 139.8 286.1 137.3 288.9 C134.8 291.7 132.4 294.6 129.4 296.8 C126.4 299.0 122.8 301.0 119.5 302.2 C116.2 303.4 112.9 303.6 109.6 304.2 C106.3 304.8 103.1 305.0 99.8 305.7 C96.5 306.4 93.2 307.0 89.9 308.2 C86.6 309.4 83.5 310.9 80.0 312.6 C76.5 314.3 72.5 316.4 69.1 318.5 C65.6 320.6 62.6 323.0 59.3 325.4 C56.0 327.8 52.7 330.6 49.4 332.8 C46.1 335.0 42.8 337.1 39.5 338.7 C36.2 340.3 32.9 341.5 29.6 342.2 C26.3 342.9 22.6 343.1 19.8 342.7 C17.0 342.3 14.5 341.4 12.8 339.7 C11.1 338.0 10.4 335.9 9.8 332.6 C9.2 329.3 9.5 325.2 9.4 319.8 C9.3 314.4 9.3 305.8 9.0 300.0 C8.7 294.2 7.6 287.5 7.3 285.0" fill="none" stroke="#523256" stroke-width="1.9" stroke-linecap="round"/>
<path d="M242 238.3 L248.5 233.3" fill="none" stroke="#f8ecc0" stroke-width="1.6" stroke-linecap="round" filter="url(#b1)"/>
<path d="M124.5 297.5 L131.5 291.5" fill="none" stroke="#f8ecc0" stroke-width="1.6" stroke-linecap="round" filter="url(#b1)"/>
</g>

<!-- hepatitis -->
<g>
<path d="M709.5 175.0 C710.0 174.5 711.4 172.6 712.5 171.8 C713.6 171.1 713.6 170.6 716.0 170.5 C718.4 170.4 723.0 170.9 727.0 171.3 C731.0 171.7 736.2 172.3 740.0 172.8 C743.8 173.3 746.7 174.0 750.0 174.4 C753.3 174.8 756.7 175.4 760.0 175.5 C763.3 175.6 766.7 175.5 770.0 175.2 C773.3 174.9 776.7 174.0 780.0 173.5 C783.3 173.0 786.7 172.6 790.0 172.3 C793.3 172.0 797.0 171.6 800.0 171.5 C803.0 171.4 805.6 171.0 808.0 171.5 C810.4 172.0 812.8 172.9 814.5 174.5 C816.2 176.1 817.6 178.6 818.5 181.0 C819.4 183.4 819.8 186.2 819.8 189.0 C819.8 191.8 819.2 195.0 818.3 198.0 C817.4 201.0 816.2 203.8 814.5 207.0 C812.8 210.2 811.0 213.2 808.0 217.5 C805.0 221.8 800.2 228.9 796.4 232.5 C792.6 236.1 789.1 237.2 785.4 238.9 C781.7 240.6 778.0 242.0 774.3 242.9 C770.6 243.8 766.9 243.3 763.2 244.2 C759.5 245.0 756.1 246.3 752.1 248.0 C748.1 249.7 743.7 252.4 739.0 254.5 C734.3 256.6 727.7 259.4 724.0 260.5 C720.3 261.6 718.8 261.0 717.0 261.0 C715.2 261.0 713.7 260.6 713.0 260.5 C711.7 261.6 708.0 264.2 705.0 267.0 C702.0 269.8 698.7 274.4 695.0 277.5 C691.3 280.6 687.7 283.3 683.0 285.5 C678.3 287.7 672.3 289.1 667.0 290.8 C661.7 292.6 656.3 293.5 651.0 296.0 C645.7 298.5 640.3 302.6 635.0 306.0 C629.7 309.4 624.2 314.1 619.0 316.5 C613.8 318.9 607.9 320.3 604.0 320.6 C600.1 320.9 597.5 320.0 595.5 318.5 C593.5 317.0 592.5 314.6 591.8 311.5 C591.0 308.4 591.3 305.2 591.0 300.0 C590.7 294.8 590.6 286.7 589.8 280.0 C589.0 273.3 587.3 266.2 586.4 260.0 C585.5 253.8 584.6 248.0 584.2 243.0 C583.9 238.0 583.7 235.5 584.3 230.0 C584.9 224.5 586.0 216.3 588.0 210.0 C590.0 203.7 592.6 197.3 596.0 192.0 C599.4 186.7 604.0 181.6 608.5 178.0 C613.0 174.4 617.6 172.2 623.0 170.5 C628.4 168.8 632.3 168.0 641.0 167.5 C649.7 167.0 665.3 167.1 675.0 167.5 C684.7 167.9 694.0 169.2 699.0 170.0 C704.0 170.8 703.2 171.2 705.0 172.0 C706.8 172.8 708.8 174.5 709.5 175.0 Z" fill="#d1945c"/>
<g clip-path="url(#cH)">
<ellipse cx="622" cy="205" rx="20" ry="15" fill="#ecd098" opacity="0.8" filter="url(#b6)"/>
<path d="M715 178 L762 182 L754 206 L722 214 Z" fill="#ecce94" filter="url(#b6)"/>
<g fill="url(#sp)"><circle cx="658.2" cy="187.7" r="6.6"/><circle cx="803.2" cy="269.6" r="5.8"/><circle cx="696.4" cy="274.7" r="6.1"/><circle cx="611.2" cy="199.4" r="6.7"/><circle cx="671.8" cy="252.7" r="5.8"/><circle cx="698.2" cy="172.8" r="6.2"/><circle cx="620.3" cy="287.1" r="6.0"/><circle cx="700.0" cy="312.9" r="6.4"/><circle cx="655.0" cy="165.6" r="6.3"/><circle cx="738.0" cy="193.2" r="6.3"/><circle cx="598.4" cy="225.8" r="6.0"/><circle cx="797.1" cy="219.1" r="5.6"/><circle cx="598.4" cy="311.7" r="5.6"/><circle cx="731.0" cy="273.0" r="6.3"/><circle cx="670.6" cy="206.9" r="6.9"/><circle cx="732.6" cy="162.9" r="6.6"/><circle cx="619.8" cy="213.6" r="6.8"/><circle cx="638.2" cy="205.4" r="6.8"/><circle cx="709.1" cy="265.2" r="6.3"/><circle cx="589.5" cy="186.1" r="6.3"/><circle cx="590.3" cy="262.8" r="5.7"/><circle cx="660.7" cy="293.0" r="6.8"/><circle cx="675.1" cy="282.2" r="6.2"/><circle cx="747.2" cy="316.7" r="5.5"/><circle cx="776.5" cy="266.1" r="6.8"/><circle cx="764.1" cy="295.4" r="5.4"/><circle cx="597.4" cy="277.1" r="5.9"/><circle cx="690.2" cy="319.9" r="6.2"/><circle cx="641.7" cy="169.9" r="5.9"/><circle cx="591.5" cy="198.1" r="6.9"/><circle cx="719.4" cy="282.8" r="6.3"/><circle cx="709.4" cy="221.8" r="5.7"/><circle cx="597.9" cy="173.6" r="6.3"/><circle cx="602.8" cy="216.8" r="5.6"/><circle cx="721.8" cy="266.9" r="5.8"/><circle cx="717.4" cy="251.7" r="6.9"/><circle cx="769.0" cy="252.0" r="6.7"/><circle cx="702.4" cy="186.9" r="6.5"/><circle cx="789.6" cy="237.7" r="6.6"/><circle cx="631.7" cy="299.3" r="6.1"/><circle cx="787.8" cy="255.8" r="5.6"/><circle cx="779.0" cy="294.6" r="5.8"/><circle cx="705.2" cy="302.2" r="6.8"/><circle cx="622.8" cy="196.4" r="6.2"/><circle cx="793.5" cy="285.9" r="5.8"/><circle cx="714.3" cy="193.2" r="5.9"/><circle cx="793.8" cy="304.8" r="5.7"/><circle cx="581.6" cy="275.5" r="5.9"/><circle cx="815.3" cy="284.8" r="6.5"/><circle cx="615.6" cy="234.6" r="5.9"/><circle cx="697.1" cy="212.7" r="5.4"/><circle cx="610.8" cy="317.7" r="6.4"/><circle cx="672.4" cy="235.6" r="5.8"/><circle cx="782.9" cy="191.3" r="7.0"/><circle cx="720.5" cy="322.8" r="5.5"/><circle cx="780.3" cy="249.8" r="6.1"/><circle cx="650.9" cy="307.6" r="5.6"/><circle cx="811.8" cy="219.6" r="6.1"/><circle cx="608.9" cy="263.3" r="6.9"/><circle cx="792.3" cy="266.4" r="6.9"/><circle cx="694.6" cy="260.3" r="6.6"/><circle cx="745.9" cy="294.6" r="5.6"/><circle cx="730.1" cy="218.5" r="6.4"/><circle cx="806.9" cy="255.6" r="6.9"/><circle cx="738.0" cy="175.7" r="6.1"/><circle cx="641.4" cy="265.9" r="5.8"/><circle cx="648.2" cy="210.1" r="6.6"/><circle cx="676.5" cy="306.4" r="6.9"/><circle cx="771.1" cy="320.4" r="6.4"/><circle cx="800.6" cy="200.4" r="6.6"/><circle cx="612.4" cy="187.3" r="5.7"/><circle cx="679.1" cy="183.0" r="6.1"/><circle cx="783.9" cy="209.3" r="6.9"/><circle cx="620.0" cy="306.8" r="5.9"/><circle cx="811.9" cy="236.5" r="6.7"/><circle cx="644.5" cy="252.3" r="6.7"/><circle cx="598.1" cy="292.3" r="5.5"/><circle cx="660.9" cy="262.3" r="5.7"/><circle cx="812.5" cy="185.1" r="6.5"/><circle cx="758.5" cy="303.4" r="5.8"/><circle cx="671.6" cy="163.6" r="5.7"/><circle cx="581.4" cy="219.4" r="6.6"/><circle cx="722.3" cy="225.6" r="5.9"/><circle cx="774.4" cy="228.4" r="6.7"/><circle cx="590.8" cy="232.9" r="6.1"/><circle cx="610.9" cy="302.0" r="7.0"/><circle cx="719.4" cy="209.6" r="5.5"/><circle cx="673.3" cy="225.9" r="5.8"/><circle cx="726.0" cy="190.6" r="5.7"/><circle cx="622.8" cy="265.1" r="7.0"/><circle cx="754.0" cy="170.1" r="6.1"/><circle cx="734.8" cy="248.0" r="5.9"/><circle cx="640.9" cy="221.8" r="5.6"/><circle cx="737.5" cy="319.1" r="6.6"/><circle cx="785.0" cy="315.7" r="6.5"/><circle cx="755.0" cy="250.4" r="6.2"/><circle cx="741.1" cy="240.5" r="6.3"/><circle cx="787.3" cy="170.1" r="6.2"/><circle cx="682.5" cy="254.1" r="6.9"/><circle cx="752.4" cy="193.6" r="6.6"/><circle cx="698.8" cy="293.0" r="6.6"/><circle cx="756.4" cy="232.5" r="5.6"/><circle cx="592.6" cy="322.0" r="5.5"/><circle cx="818.3" cy="266.9" r="5.6"/><circle cx="799.2" cy="165.9" r="6.5"/><circle cx="689.4" cy="231.1" r="6.4"/><circle cx="638.5" cy="311.6" r="5.9"/><circle cx="644.7" cy="182.3" r="6.1"/><circle cx="738.2" cy="207.8" r="6.1"/><circle cx="766.4" cy="185.6" r="5.4"/><circle cx="821.2" cy="184.5" r="4.0"/><circle cx="580.4" cy="315.7" r="4.5"/><circle cx="765.7" cy="260.9" r="4.1"/><circle cx="660.9" cy="318.0" r="4.3"/><circle cx="803.3" cy="278.8" r="5.2"/><circle cx="811.1" cy="293.4" r="3.9"/><circle cx="702.0" cy="224.5" r="3.6"/><circle cx="681.5" cy="227.6" r="3.5"/><circle cx="712.5" cy="274.8" r="4.5"/><circle cx="635.9" cy="254.4" r="3.6"/><circle cx="664.9" cy="304.9" r="3.9"/><circle cx="647.3" cy="242.0" r="5.0"/><circle cx="767.1" cy="200.0" r="4.0"/><circle cx="582.1" cy="247.0" r="4.7"/><circle cx="602.7" cy="233.9" r="4.2"/><circle cx="621.9" cy="164.6" r="3.5"/><circle cx="751.8" cy="182.2" r="5.0"/><circle cx="763.1" cy="166.7" r="3.8"/><circle cx="748.1" cy="227.9" r="4.3"/><circle cx="681.1" cy="242.7" r="5.2"/><circle cx="718.4" cy="176.2" r="3.8"/><circle cx="682.5" cy="269.7" r="4.7"/><circle cx="661.2" cy="208.2" r="3.7"/><circle cx="721.1" cy="275.1" r="3.5"/><circle cx="726.2" cy="298.0" r="5.1"/><circle cx="644.7" cy="275.2" r="3.9"/><circle cx="651.9" cy="200.7" r="4.8"/><circle cx="647.9" cy="283.5" r="3.6"/><circle cx="721.0" cy="239.4" r="5.2"/><circle cx="730.2" cy="198.5" r="3.6"/><circle cx="696.7" cy="227.7" r="3.7"/><circle cx="688.3" cy="305.1" r="4.7"/><circle cx="599.0" cy="256.2" r="3.6"/><circle cx="657.5" cy="217.3" r="4.2"/><circle cx="614.1" cy="162.1" r="4.0"/><circle cx="594.1" cy="285.0" r="4.1"/><circle cx="770.0" cy="171.9" r="3.8"/><circle cx="813.7" cy="166.9" r="4.0"/><circle cx="808.3" cy="304.7" r="4.5"/><circle cx="759.6" cy="271.4" r="4.1"/><circle cx="733.6" cy="229.6" r="4.5"/><circle cx="690.7" cy="202.4" r="5.2"/><circle cx="759.5" cy="242.1" r="5.2"/><circle cx="774.3" cy="216.0" r="4.9"/><circle cx="696.6" cy="245.8" r="4.5"/><circle cx="620.6" cy="248.6" r="4.6"/><circle cx="611.5" cy="273.8" r="3.6"/><circle cx="678.2" cy="216.6" r="3.6"/><circle cx="715.2" cy="315.4" r="4.5"/><circle cx="790.4" cy="179.1" r="4.7"/><circle cx="634.1" cy="214.1" r="4.4"/><circle cx="744.9" cy="303.6" r="4.3"/><circle cx="811.4" cy="246.5" r="4.7"/><circle cx="818.8" cy="322.6" r="4.8"/><circle cx="746.9" cy="200.5" r="3.6"/><circle cx="784.1" cy="218.8" r="4.0"/><circle cx="666.7" cy="178.5" r="4.7"/><circle cx="673.8" cy="292.4" r="5.1"/><circle cx="803.8" cy="239.0" r="3.8"/><circle cx="634.9" cy="247.8" r="4.4"/><circle cx="665.3" cy="246.0" r="4.9"/><circle cx="585.0" cy="298.6" r="3.7"/><circle cx="736.2" cy="261.9" r="4.2"/><circle cx="675.0" cy="272.8" r="4.9"/><circle cx="820.4" cy="226.7" r="4.4"/><circle cx="772.3" cy="285.5" r="3.7"/><circle cx="704.7" cy="276.9" r="4.7"/><circle cx="697.4" cy="162.1" r="4.7"/><circle cx="807.3" cy="209.3" r="3.6"/><circle cx="783.9" cy="303.3" r="5.3"/><circle cx="769.1" cy="311.7" r="3.5"/><circle cx="637.9" cy="188.5" r="4.2"/><circle cx="635.9" cy="177.5" r="3.6"/><circle cx="657.2" cy="275.5" r="4.7"/><circle cx="751.5" cy="283.1" r="5.1"/><circle cx="623.7" cy="297.2" r="4.0"/><circle cx="583.2" cy="169.7" r="4.3"/><circle cx="778.8" cy="274.4" r="3.8"/><circle cx="661.8" cy="196.2" r="4.0"/><circle cx="755.2" cy="266.7" r="3.8"/><circle cx="703.1" cy="283.8" r="3.9"/><circle cx="611.3" cy="169.8" r="5.0"/><circle cx="631.0" cy="276.2" r="4.9"/><circle cx="805.0" cy="227.3" r="4.5"/><circle cx="814.9" cy="259.8" r="4.2"/><circle cx="758.0" cy="289.5" r="4.3"/><circle cx="581.1" cy="237.1" r="5.0"/><circle cx="586.7" cy="206.2" r="4.5"/><circle cx="712.8" cy="181.9" r="4.8"/><circle cx="656.6" cy="176.7" r="3.6"/><circle cx="809.5" cy="316.1" r="5.1"/><circle cx="793.8" cy="245.6" r="3.7"/><circle cx="763.8" cy="208.2" r="4.7"/><circle cx="656.5" cy="245.8" r="4.9"/><circle cx="623.7" cy="239.8" r="3.5"/><circle cx="646.4" cy="295.3" r="4.6"/><circle cx="796.9" cy="258.2" r="4.1"/><circle cx="650.0" cy="268.1" r="4.1"/><circle cx="590.3" cy="222.1" r="5.0"/><circle cx="738.3" cy="283.1" r="4.4"/><circle cx="595.1" cy="249.1" r="4.1"/><circle cx="632.2" cy="262.9" r="4.3"/><circle cx="608.0" cy="287.3" r="3.9"/><circle cx="790.2" cy="201.7" r="5.2"/><circle cx="682.1" cy="209.0" r="3.5"/><circle cx="817.4" cy="275.9" r="3.9"/><circle cx="728.1" cy="320.2" r="4.3"/><circle cx="605.5" cy="162.8" r="5.2"/><circle cx="794.1" cy="315.6" r="4.1"/><circle cx="596.7" cy="205.2" r="3.6"/><circle cx="733.4" cy="306.8" r="4.1"/><circle cx="608.5" cy="250.8" r="4.2"/><circle cx="613.2" cy="226.8" r="4.4"/><circle cx="658.7" cy="231.4" r="5.1"/><circle cx="586.7" cy="285.6" r="4.0"/><circle cx="775.3" cy="311.4" r="4.2"/><circle cx="625.2" cy="185.7" r="5.0"/><circle cx="728.0" cy="173.4" r="4.2"/><circle cx="797.8" cy="230.8" r="4.9"/><circle cx="760.1" cy="221.9" r="3.6"/><circle cx="706.5" cy="167.8" r="5.2"/><circle cx="745.9" cy="252.3" r="3.6"/><circle cx="783.6" cy="283.2" r="3.6"/><circle cx="740.2" cy="273.7" r="5.2"/><circle cx="637.9" cy="235.5" r="4.3"/><circle cx="804.4" cy="247.1" r="3.7"/><circle cx="768.7" cy="272.8" r="4.9"/><circle cx="689.2" cy="181.8" r="3.6"/><circle cx="755.2" cy="207.8" r="4.3"/><circle cx="742.2" cy="163.2" r="4.4"/><circle cx="820.2" cy="194.7" r="3.5"/><circle cx="651.4" cy="317.5" r="5.0"/><circle cx="768.1" cy="242.0" r="4.9"/><circle cx="685.6" cy="170.1" r="3.8"/><circle cx="637.8" cy="290.3" r="4.5"/><circle cx="704.1" cy="323.3" r="5.0"/><circle cx="704.1" cy="201.7" r="5.2"/><circle cx="706.3" cy="254.7" r="5.0"/><circle cx="682.8" cy="199.3" r="4.8"/><circle cx="712.1" cy="236.8" r="4.5"/><circle cx="678.1" cy="317.1" r="4.9"/><circle cx="800.2" cy="191.4" r="3.9"/><circle cx="607.3" cy="208.2" r="4.0"/><circle cx="598.4" cy="189.5" r="4.8"/><circle cx="606.5" cy="223.5" r="3.8"/><circle cx="722.3" cy="163.6" r="5.2"/><circle cx="623.3" cy="230.6" r="4.7"/><circle cx="599.4" cy="303.2" r="4.1"/><circle cx="727.8" cy="256.9" r="4.0"/><circle cx="669.4" cy="320.6" r="3.7"/><circle cx="773.9" cy="163.0" r="4.0"/><circle cx="799.8" cy="176.0" r="5.1"/><circle cx="777.1" cy="197.7" r="3.6"/><circle cx="649.8" cy="172.5" r="3.8"/><circle cx="705.0" cy="211.6" r="3.5"/><circle cx="703.1" cy="242.7" r="4.2"/><circle cx="731.1" cy="284.3" r="4.0"/><circle cx="600.2" cy="244.0" r="3.9"/><circle cx="748.0" cy="214.1" r="3.6"/><circle cx="687.7" cy="283.8" r="4.3"/><circle cx="674.6" cy="261.3" r="3.9"/><circle cx="696.3" cy="194.4" r="3.5"/><circle cx="632.4" cy="167.3" r="4.8"/><circle cx="799.4" cy="297.5" r="5.2"/><circle cx="631.7" cy="225.5" r="4.5"/><circle cx="821.6" cy="162.1" r="4.8"/><circle cx="627.7" cy="315.9" r="4.6"/><circle cx="774.4" cy="303.0" r="4.8"/><circle cx="663.8" cy="170.8" r="4.3"/><circle cx="699.7" cy="232.8" r="3.6"/><circle cx="647.5" cy="227.0" r="4.8"/><circle cx="623.9" cy="172.6" r="5.2"/><circle cx="766.2" cy="224.8" r="3.8"/><circle cx="821.3" cy="217.1" r="4.5"/><circle cx="580.8" cy="176.4" r="4.4"/><circle cx="719.8" cy="302.6" r="3.6"/><circle cx="821.6" cy="309.5" r="3.7"/><circle cx="724.6" cy="313.0" r="4.9"/><circle cx="727.0" cy="234.1" r="3.6"/><circle cx="587.9" cy="251.6" r="4.0"/><circle cx="599.8" cy="262.9" r="3.5"/><circle cx="604.5" cy="271.8" r="4.9"/><circle cx="716.0" cy="307.8" r="4.0"/><circle cx="741.2" cy="223.2" r="4.5"/><circle cx="763.4" cy="282.3" r="5.1"/><circle cx="821.6" cy="237.8" r="4.3"/><circle cx="745.1" cy="262.3" r="3.6"/><circle cx="665.2" cy="226.3" r="4.0"/><circle cx="758.4" cy="320.6" r="5.1"/><circle cx="734.4" cy="299.5" r="3.7"/><circle cx="729.0" cy="206.5" r="5.0"/><circle cx="803.6" cy="183.4" r="4.7"/><circle cx="648.5" cy="260.0" r="4.0"/><circle cx="688.5" cy="221.2" r="3.6"/><circle cx="770.9" cy="209.4" r="3.8"/><circle cx="587.0" cy="163.0" r="4.1"/><circle cx="682.1" cy="288.3" r="3.8"/><circle cx="816.4" cy="176.2" r="3.8"/><circle cx="689.9" cy="191.1" r="4.2"/><circle cx="687.7" cy="215.0" r="4.0"/><circle cx="765.5" cy="177.6" r="3.0"/><circle cx="681.5" cy="300.7" r="2.1"/><circle cx="653.6" cy="253.0" r="2.1"/><circle cx="750.2" cy="272.6" r="2.3"/><circle cx="801.8" cy="209.7" r="3.3"/><circle cx="727.4" cy="242.6" r="2.1"/><circle cx="644.7" cy="199.0" r="3.0"/><circle cx="771.0" cy="196.1" r="2.8"/><circle cx="588.0" cy="309.1" r="2.6"/><circle cx="789.6" cy="280.3" r="2.3"/><circle cx="817.6" cy="202.8" r="2.9"/><circle cx="727.7" cy="182.8" r="3.2"/><circle cx="664.5" cy="283.6" r="2.2"/><circle cx="618.6" cy="222.4" r="2.9"/><circle cx="617.5" cy="271.6" r="2.5"/><circle cx="814.3" cy="209.6" r="3.1"/><circle cx="623.9" cy="275.4" r="2.5"/><circle cx="796.2" cy="185.2" r="2.8"/><circle cx="580.8" cy="190.8" r="3.3"/><circle cx="758.8" cy="261.9" r="2.2"/><circle cx="629.8" cy="181.4" r="2.6"/><circle cx="746.1" cy="270.7" r="2.4"/><circle cx="802.2" cy="310.8" r="3.1"/><circle cx="589.4" cy="213.2" r="3.0"/><circle cx="626.7" cy="221.5" r="3.2"/><circle cx="740.8" cy="256.5" r="2.7"/><circle cx="646.2" cy="233.5" r="3.3"/><circle cx="821.7" cy="169.5" r="2.1"/><circle cx="700.1" cy="218.3" r="2.3"/><circle cx="691.1" cy="176.5" r="3.2"/><circle cx="652.3" cy="234.7" r="3.0"/><circle cx="813.6" cy="195.9" r="2.9"/><circle cx="748.9" cy="236.1" r="3.1"/><circle cx="805.8" cy="290.7" r="3.0"/><circle cx="651.1" cy="274.3" r="3.0"/><circle cx="716.0" cy="270.3" r="2.4"/><circle cx="716.9" cy="231.7" r="2.2"/><circle cx="580.2" cy="252.6" r="2.4"/><circle cx="664.7" cy="272.0" r="3.0"/><circle cx="652.8" cy="180.6" r="2.8"/><circle cx="628.5" cy="307.6" r="3.1"/><circle cx="819.0" cy="243.0" r="2.4"/><circle cx="716.4" cy="201.5" r="2.4"/><circle cx="660.8" cy="221.7" r="2.2"/><circle cx="669.4" cy="215.9" r="2.1"/><circle cx="630.5" cy="205.5" r="2.4"/><circle cx="763.0" cy="197.2" r="2.1"/><circle cx="693.2" cy="218.1" r="2.0"/><circle cx="783.2" cy="163.0" r="2.8"/><circle cx="665.9" cy="218.3" r="2.0"/><circle cx="650.9" cy="186.1" r="2.4"/><circle cx="640.6" cy="283.4" r="2.8"/><circle cx="671.4" cy="193.3" r="2.7"/><circle cx="792.0" cy="323.9" r="2.6"/><circle cx="642.5" cy="194.5" r="2.7"/><circle cx="811.1" cy="322.6" r="3.0"/><circle cx="674.5" cy="199.8" r="2.1"/><circle cx="636.3" cy="240.3" r="2.0"/><circle cx="730.5" cy="238.5" r="3.0"/><circle cx="656.3" cy="322.1" r="3.3"/><circle cx="687.2" cy="293.2" r="2.1"/><circle cx="668.3" cy="268.1" r="3.0"/><circle cx="618.6" cy="322.8" r="2.5"/><circle cx="806.2" cy="193.1" r="2.6"/><circle cx="777.8" cy="283.9" r="2.4"/><circle cx="768.5" cy="234.3" r="3.2"/><circle cx="803.3" cy="315.9" r="2.4"/><circle cx="750.8" cy="258.2" r="3.2"/><circle cx="641.3" cy="245.0" r="3.2"/><circle cx="710.8" cy="245.5" r="2.2"/><circle cx="804.7" cy="219.7" r="2.7"/><circle cx="639.3" cy="214.1" r="2.2"/><circle cx="786.4" cy="287.2" r="2.3"/><circle cx="698.7" cy="205.1" r="2.0"/><circle cx="596.5" cy="183.8" r="2.3"/><circle cx="602.1" cy="239.3" r="2.1"/><circle cx="616.2" cy="175.7" r="2.8"/><circle cx="696.1" cy="239.1" r="2.2"/><circle cx="774.8" cy="277.7" r="2.4"/><circle cx="807.9" cy="162.5" r="2.5"/><circle cx="754.5" cy="225.1" r="2.5"/><circle cx="744.0" cy="186.9" r="2.7"/><circle cx="641.4" cy="302.8" r="3.1"/><circle cx="717.7" cy="290.4" r="2.4"/><circle cx="679.1" cy="194.1" r="2.5"/><circle cx="775.2" cy="245.2" r="2.3"/><circle cx="818.6" cy="254.9" r="2.8"/><circle cx="590.9" cy="168.4" r="3.0"/><circle cx="705.9" cy="232.9" r="3.2"/><circle cx="816.8" cy="303.9" r="2.9"/><circle cx="651.1" cy="292.2" r="2.5"/><circle cx="752.0" cy="299.5" r="2.3"/><circle cx="778.2" cy="180.7" r="2.9"/><circle cx="768.6" cy="162.1" r="2.7"/><circle cx="613.7" cy="243.1" r="2.7"/><circle cx="810.3" cy="203.0" r="2.1"/><circle cx="603.5" cy="185.8" r="2.8"/><circle cx="686.4" cy="298.0" r="2.4"/><circle cx="791.0" cy="296.1" r="3.3"/><circle cx="665.0" cy="183.7" r="2.1"/><circle cx="607.9" cy="192.8" r="2.1"/><circle cx="757.9" cy="216.7" r="3.1"/><circle cx="720.9" cy="259.9" r="2.7"/><circle cx="800.9" cy="285.1" r="2.6"/><circle cx="667.3" cy="286.4" r="2.6"/><circle cx="666.0" cy="314.0" r="2.3"/><circle cx="726.5" cy="249.1" r="2.8"/><circle cx="626.6" cy="249.7" r="2.7"/><circle cx="684.1" cy="263.3" r="3.0"/><circle cx="689.0" cy="311.2" r="2.2"/><circle cx="806.0" cy="286.0" r="2.2"/><circle cx="673.3" cy="313.0" r="2.1"/><circle cx="715.2" cy="218.1" r="3.0"/><circle cx="783.1" cy="229.9" r="2.5"/><circle cx="754.8" cy="311.5" r="2.0"/><circle cx="604.0" cy="194.4" r="2.7"/><circle cx="584.8" cy="193.1" r="2.3"/><circle cx="599.2" cy="320.8" r="2.8"/><circle cx="581.0" cy="183.9" r="2.0"/><circle cx="603.8" cy="255.5" r="2.4"/><circle cx="750.2" cy="164.2" r="2.4"/><circle cx="586.9" cy="178.2" r="2.6"/><circle cx="738.9" cy="183.0" r="2.3"/><circle cx="656.2" cy="313.4" r="2.4"/><circle cx="580.2" cy="260.8" r="3.0"/><circle cx="615.0" cy="254.4" r="2.8"/><circle cx="613.0" cy="293.2" r="3.0"/><circle cx="630.0" cy="238.7" r="3.3"/><circle cx="683.9" cy="276.0" r="2.8"/><circle cx="647.0" cy="162.2" r="3.1"/><circle cx="737.4" cy="217.2" r="2.8"/><circle cx="631.3" cy="287.0" r="2.3"/><circle cx="797.4" cy="207.5" r="2.3"/><circle cx="659.0" cy="305.1" r="2.2"/><circle cx="769.4" cy="191.0" r="2.0"/><circle cx="749.4" cy="205.6" r="2.6"/><circle cx="786.5" cy="274.7" r="3.1"/><circle cx="639.5" cy="320.8" r="2.9"/><circle cx="585.5" cy="304.3" r="2.7"/><circle cx="774.9" cy="204.8" r="2.3"/><circle cx="711.9" cy="286.9" r="2.0"/><circle cx="782.4" cy="177.5" r="2.2"/><circle cx="812.3" cy="270.2" r="2.7"/><circle cx="622.7" cy="179.0" r="2.6"/><circle cx="612.3" cy="218.2" r="3.2"/><circle cx="687.3" cy="247.8" r="2.3"/><circle cx="796.9" cy="274.9" r="2.3"/><circle cx="729.9" cy="264.9" r="2.4"/><circle cx="713.7" cy="162.7" r="3.0"/><circle cx="779.9" cy="235.5" r="2.5"/><circle cx="701.6" cy="268.4" r="3.1"/><circle cx="628.6" cy="212.8" r="2.2"/><circle cx="602.1" cy="180.5" r="2.1"/><circle cx="745.6" cy="267.0" r="2.1"/><circle cx="628.0" cy="163.2" r="2.4"/><circle cx="586.4" cy="270.1" r="2.8"/><circle cx="598.2" cy="166.0" r="2.2"/><circle cx="705.5" cy="176.9" r="2.2"/><circle cx="683.4" cy="164.0" r="2.6"/><circle cx="708.9" cy="293.8" r="3.3"/><circle cx="589.3" cy="275.2" r="2.6"/><circle cx="674.0" cy="321.2" r="2.0"/><circle cx="633.6" cy="284.3" r="2.1"/><circle cx="821.5" cy="292.9" r="2.8"/><circle cx="628.9" cy="201.6" r="2.2"/><circle cx="709.0" cy="313.2" r="2.1"/><circle cx="688.1" cy="273.9" r="2.3"/><circle cx="688.0" cy="240.3" r="2.0"/><circle cx="725.2" cy="276.8" r="2.0"/><circle cx="723.1" cy="246.1" r="2.4"/><circle cx="673.3" cy="215.5" r="2.0"/><circle cx="739.5" cy="306.6" r="2.6"/><circle cx="792.3" cy="194.6" r="2.9"/><circle cx="765.8" cy="193.0" r="2.3"/><circle cx="724.1" cy="290.2" r="2.9"/><circle cx="582.7" cy="267.6" r="2.8"/><circle cx="711.1" cy="204.6" r="3.2"/><circle cx="784.3" cy="225.4" r="3.0"/><circle cx="756.7" cy="199.4" r="2.1"/><circle cx="596.9" cy="239.3" r="2.4"/><circle cx="654.1" cy="283.6" r="2.7"/><circle cx="680.8" cy="294.3" r="2.6"/><circle cx="761.1" cy="264.9" r="2.1"/><circle cx="626.1" cy="225.7" r="2.1"/><circle cx="681.8" cy="189.2" r="2.3"/><circle cx="680.7" cy="235.8" r="3.3"/><circle cx="632.9" cy="307.6" r="2.2"/><circle cx="816.1" cy="309.6" r="2.5"/><circle cx="764.7" cy="266.1" r="2.5"/><circle cx="692.1" cy="224.1" r="2.2"/><circle cx="768.7" cy="266.3" r="2.5"/><circle cx="777.9" cy="171.8" r="2.4"/><circle cx="706.7" cy="248.1" r="2.9"/><circle cx="648.3" cy="220.4" r="2.5"/><circle cx="801.0" cy="323.0" r="3.2"/><circle cx="659.2" cy="202.7" r="2.0"/><circle cx="787.7" cy="323.3" r="2.3"/><circle cx="601.1" cy="251.6" r="2.0"/><circle cx="645.9" cy="321.6" r="2.1"/><circle cx="657.1" cy="255.5" r="2.9"/><circle cx="810.9" cy="274.5" r="2.4"/><circle cx="733.2" cy="291.4" r="3.3"/><circle cx="709.7" cy="198.4" r="2.6"/><circle cx="718.0" cy="295.5" r="3.4"/><circle cx="637.5" cy="163.2" r="2.0"/><circle cx="822.0" cy="316.4" r="2.6"/><circle cx="679.1" cy="169.8" r="2.8"/><circle cx="753.0" cy="243.2" r="2.8"/><circle cx="763.3" cy="172.8" r="3.3"/><circle cx="809.9" cy="265.5" r="3.1"/><circle cx="611.6" cy="280.2" r="2.5"/><circle cx="738.6" cy="168.2" r="2.7"/><circle cx="695.2" cy="180.3" r="2.2"/><circle cx="727.7" cy="304.7" r="3.1"/><circle cx="791.3" cy="214.3" r="3.3"/><circle cx="650.4" cy="194.5" r="2.8"/><circle cx="613.7" cy="310.1" r="2.7"/><circle cx="674.3" cy="298.2" r="2.0"/><circle cx="606.1" cy="239.3" r="2.7"/><circle cx="789.8" cy="227.3" r="3.3"/><circle cx="627.2" cy="323.7" r="3.0"/><circle cx="584.4" cy="292.3" r="2.5"/><circle cx="667.3" cy="297.5" r="2.1"/><circle cx="697.6" cy="305.3" r="3.3"/><circle cx="664.4" cy="239.4" r="2.6"/><circle cx="757.3" cy="164.2" r="2.0"/><circle cx="580.9" cy="202.2" r="3.2"/><circle cx="706.7" cy="288.1" r="3.0"/><circle cx="605.6" cy="245.8" r="2.7"/><circle cx="617.4" cy="257.9" r="2.2"/><circle cx="820.0" cy="212.2" r="2.0"/><circle cx="591.7" cy="303.2" r="3.0"/><circle cx="580.4" cy="231.1" r="2.1"/><circle cx="606.8" cy="310.1" r="2.6"/><circle cx="757.7" cy="314.2" r="2.4"/><circle cx="630.2" cy="253.2" r="2.8"/><circle cx="602.5" cy="284.4" r="2.8"/><circle cx="666.9" cy="188.9" r="3.4"/><circle cx="586.2" cy="316.9" r="2.5"/><circle cx="582.3" cy="289.3" r="2.2"/><circle cx="592.6" cy="297.5" r="2.0"/><circle cx="702.6" cy="262.2" r="2.0"/><circle cx="746.5" cy="246.5" r="2.5"/><circle cx="796.8" cy="237.7" r="2.5"/><circle cx="588.3" cy="173.4" r="2.7"/><circle cx="687.5" cy="209.6" r="2.0"/><circle cx="593.9" cy="211.2" r="2.7"/><circle cx="627.0" cy="291.3" r="3.4"/><circle cx="794.3" cy="189.3" r="2.3"/><circle cx="752.8" cy="217.1" r="3.2"/><circle cx="660.4" cy="251.2" r="2.5"/><circle cx="691.5" cy="241.6" r="2.2"/><circle cx="756.6" cy="277.2" r="2.9"/><circle cx="610.0" cy="177.0" r="2.5"/><circle cx="633.1" cy="193.3" r="3.2"/><circle cx="714.2" cy="302.4" r="2.1"/><circle cx="665.0" cy="233.2" r="2.6"/><circle cx="720.5" cy="182.5" r="2.6"/><circle cx="800.9" cy="304.3" r="2.3"/><circle cx="690.9" cy="279.3" r="2.6"/><circle cx="741.3" cy="200.9" r="2.3"/><circle cx="758.3" cy="310.4" r="2.1"/><circle cx="637.4" cy="228.0" r="2.6"/><circle cx="713.8" cy="321.2" r="3.1"/><circle cx="710.8" cy="213.0" r="2.8"/><circle cx="620.0" cy="274.9" r="2.2"/><circle cx="638.6" cy="295.9" r="2.4"/><circle cx="748.5" cy="308.8" r="2.5"/><circle cx="691.2" cy="294.7" r="2.6"/><circle cx="734.7" cy="256.6" r="2.4"/><circle cx="808.6" cy="170.8" r="2.4"/><circle cx="659.7" cy="283.0" r="3.2"/><circle cx="653.7" cy="226.5" r="2.8"/><circle cx="794.9" cy="210.1" r="2.0"/><circle cx="733.9" cy="236.1" r="2.1"/><circle cx="811.1" cy="309.8" r="2.2"/><circle cx="720.4" cy="215.7" r="2.1"/><circle cx="612.1" cy="212.4" r="2.8"/><circle cx="775.7" cy="239.4" r="3.2"/><circle cx="796.3" cy="253.2" r="2.2"/><circle cx="606.0" cy="294.1" r="3.1"/><circle cx="631.0" cy="174.9" r="2.0"/><circle cx="669.7" cy="262.4" r="2.2"/><circle cx="764.9" cy="230.5" r="2.7"/><circle cx="598.4" cy="268.9" r="2.3"/><circle cx="780.1" cy="323.6" r="2.5"/><circle cx="634.9" cy="321.2" r="2.1"/><circle cx="686.5" cy="186.4" r="2.9"/><circle cx="775.2" cy="184.6" r="3.0"/><circle cx="663.7" cy="201.9" r="2.5"/><circle cx="710.0" cy="229.7" r="2.4"/><circle cx="620.1" cy="205.8" r="2.2"/><circle cx="741.2" cy="250.6" r="2.2"/><circle cx="820.2" cy="248.9" r="2.5"/><circle cx="767.1" cy="288.7" r="3.3"/><circle cx="592.2" cy="256.1" r="2.6"/><circle cx="660.1" cy="241.4" r="2.0"/><circle cx="684.0" cy="317.3" r="2.1"/><circle cx="664.6" cy="322.5" r="2.2"/><circle cx="612.1" cy="180.8" r="2.0"/><circle cx="643.0" cy="236.6" r="1.4"/><circle cx="641.0" cy="162.4" r="1.4"/><circle cx="815.5" cy="251.8" r="1.5"/><circle cx="695.3" cy="253.8" r="1.6"/><circle cx="744.5" cy="219.3" r="1.5"/><circle cx="791.1" cy="273.2" r="1.5"/><circle cx="586.0" cy="321.7" r="1.5"/><circle cx="753.8" cy="260.7" r="1.6"/><circle cx="634.7" cy="162.3" r="1.2"/><circle cx="654.8" cy="289.0" r="1.5"/><circle cx="791.7" cy="250.1" r="1.4"/><circle cx="638.8" cy="242.1" r="1.2"/><circle cx="795.9" cy="279.2" r="1.4"/><circle cx="768.9" cy="307.1" r="1.4"/><circle cx="602.9" cy="323.3" r="1.6"/><circle cx="646.2" cy="194.0" r="1.7"/><circle cx="700.2" cy="263.9" r="1.4"/><circle cx="684.7" cy="178.9" r="1.7"/><circle cx="605.0" cy="229.2" r="1.3"/><circle cx="798.2" cy="245.3" r="1.6"/><circle cx="610.4" cy="283.3" r="1.6"/><circle cx="657.7" cy="198.6" r="1.4"/><circle cx="777.9" cy="168.0" r="1.6"/><circle cx="729.8" cy="293.7" r="1.7"/><circle cx="695.7" cy="287.1" r="1.4"/><circle cx="598.7" cy="198.3" r="1.4"/><circle cx="789.1" cy="290.3" r="1.5"/><circle cx="585.8" cy="225.3" r="1.4"/><circle cx="743.1" cy="268.1" r="1.3"/><circle cx="792.0" cy="207.4" r="1.5"/><circle cx="749.2" cy="277.1" r="1.5"/><circle cx="796.0" cy="225.3" r="1.5"/><circle cx="600.8" cy="165.0" r="1.2"/><circle cx="781.2" cy="308.4" r="1.4"/><circle cx="618.0" cy="244.4" r="1.3"/><circle cx="585.5" cy="257.3" r="1.6"/><circle cx="696.0" cy="322.2" r="1.3"/><circle cx="654.9" cy="206.4" r="1.6"/><circle cx="708.7" cy="320.7" r="1.3"/><circle cx="755.0" cy="220.7" r="1.4"/><circle cx="807.4" cy="322.2" r="1.3"/><circle cx="796.8" cy="323.1" r="1.3"/><circle cx="676.4" cy="189.2" r="1.7"/><circle cx="680.8" cy="167.1" r="1.2"/><circle cx="699.3" cy="281.0" r="1.6"/><circle cx="695.0" cy="298.1" r="1.4"/><circle cx="807.6" cy="204.7" r="1.6"/><circle cx="663.0" cy="299.5" r="1.5"/><circle cx="758.3" cy="185.3" r="1.5"/><circle cx="653.5" cy="297.8" r="1.3"/><circle cx="746.0" cy="180.0" r="1.3"/><circle cx="764.6" cy="215.2" r="1.3"/><circle cx="620.2" cy="293.4" r="1.4"/><circle cx="696.5" cy="207.2" r="1.3"/><circle cx="653.4" cy="219.5" r="1.3"/><circle cx="734.2" cy="201.2" r="1.3"/><circle cx="747.2" cy="218.2" r="1.5"/><circle cx="738.8" cy="297.7" r="1.5"/><circle cx="641.4" cy="229.9" r="1.4"/><circle cx="615.0" cy="277.3" r="1.2"/><circle cx="663.2" cy="213.7" r="1.3"/><circle cx="763.5" cy="306.6" r="1.5"/><circle cx="722.2" cy="306.3" r="1.7"/><circle cx="775.7" cy="191.7" r="1.2"/><circle cx="649.4" cy="288.0" r="1.5"/><circle cx="640.3" cy="277.1" r="1.7"/><circle cx="767.8" cy="217.5" r="1.2"/><circle cx="708.3" cy="174.9" r="1.6"/><circle cx="811.8" cy="177.7" r="1.7"/><circle cx="697.8" cy="220.7" r="1.2"/><circle cx="667.6" cy="199.9" r="1.2"/><circle cx="719.5" cy="187.8" r="1.4"/><circle cx="793.8" cy="173.4" r="1.2"/><circle cx="811.0" cy="173.2" r="1.4"/><circle cx="584.0" cy="232.3" r="1.4"/><circle cx="591.9" cy="272.0" r="1.5"/><circle cx="728.4" cy="227.9" r="1.6"/><circle cx="761.4" cy="313.2" r="1.6"/><circle cx="603.5" cy="319.5" r="1.4"/><circle cx="763.8" cy="315.9" r="1.4"/></g>
<path d="M716 178 L758 182 L750 203 L723 211 Z" fill="#e9c78c" opacity="0.6" filter="url(#b6)"/>
<ellipse cx="638" cy="222" rx="40" ry="36" fill="#dfab70" opacity="0.78" filter="url(#b8)"/>
<ellipse cx="621.5" cy="205" rx="3" ry="4.5" fill="#f7e6bf" opacity="0.85" filter="url(#b2)"/>
<path d="M591.0 300.0 C590.8 296.7 590.6 286.7 589.8 280.0 C589.0 273.3 587.3 266.2 586.4 260.0 C585.5 253.8 584.6 248.0 584.2 243.0 C583.9 238.0 583.7 235.5 584.3 230.0 C584.9 224.5 586.0 216.3 588.0 210.0 C590.0 203.7 592.6 197.3 596.0 192.0 C599.4 186.7 604.0 181.6 608.5 178.0 C613.0 174.4 617.6 172.2 623.0 170.5 C628.4 168.8 632.3 168.0 641.0 167.5 C649.7 167.0 669.3 167.5 675.0 167.5" fill="none" stroke="#c07c44" stroke-width="18" opacity="0.5" filter="url(#b6)"/>
<path d="M818.5 181.0 C818.7 182.3 819.8 186.2 819.8 189.0 C819.8 191.8 819.2 195.0 818.3 198.0 C817.4 201.0 816.2 203.8 814.5 207.0 C812.8 210.2 811.0 213.2 808.0 217.5 C805.0 221.8 800.2 228.9 796.4 232.5 C792.6 236.1 789.1 237.2 785.4 238.9 C781.7 240.6 778.0 242.0 774.3 242.9 C770.6 243.8 766.9 243.3 763.2 244.2 C759.5 245.0 756.1 246.3 752.1 248.0 C748.1 249.7 743.7 252.4 739.0 254.5 C734.3 256.6 727.7 259.4 724.0 260.5 C720.3 261.6 718.8 261.0 717.0 261.0 C715.2 261.0 713.7 260.6 713.0 260.5" fill="none" stroke="#ecc272" stroke-width="9.5" stroke-linecap="round"/><path d="M713.0 260.5 C711.7 261.6 708.0 264.2 705.0 267.0 C702.0 269.8 698.7 274.4 695.0 277.5 C691.3 280.6 687.7 283.3 683.0 285.5 C678.3 287.7 672.3 289.1 667.0 290.8 C661.7 292.6 656.3 293.5 651.0 296.0 C645.7 298.5 640.3 302.6 635.0 306.0 C629.7 309.4 624.2 314.1 619.0 316.5 C613.8 318.9 607.9 320.3 604.0 320.6 C600.1 320.9 597.5 320.0 595.5 318.5 C593.5 317.0 592.4 312.7 591.8 311.5" fill="none" stroke="#ecc272" stroke-width="9.5" stroke-linecap="round"/></g>
<path d="M706.3 172.0 Q708.7 173.0 709.7 176.6 Q710.1 172.8 713.1 171.4 Q710.3 172.2 709.5 174.4 Q708.7 172.8 706.3 172.0Z" fill="#523256"/><path d="M714.2 243.5 C714.8 251 714 256 716.5 261 L710.5 262.5 C713 257 713.6 251 714.2 243.5Z" fill="#523256"/>
<path d="M709.5 175.0 C710.0 174.5 711.4 172.6 712.5 171.8 C713.6 171.1 713.6 170.6 716.0 170.5 C718.4 170.4 723.0 170.9 727.0 171.3 C731.0 171.7 736.2 172.3 740.0 172.8 C743.8 173.3 746.7 174.0 750.0 174.4 C753.3 174.8 756.7 175.4 760.0 175.5 C763.3 175.6 766.7 175.5 770.0 175.2 C773.3 174.9 776.7 174.0 780.0 173.5 C783.3 173.0 786.7 172.6 790.0 172.3 C793.3 172.0 797.0 171.6 800.0 171.5 C803.0 171.4 805.6 171.0 808.0 171.5 C810.4 172.0 812.8 172.9 814.5 174.5 C816.2 176.1 817.6 178.6 818.5 181.0 C819.4 183.4 819.8 186.2 819.8 189.0 C819.8 191.8 819.2 195.0 818.3 198.0 C817.4 201.0 816.2 203.8 814.5 207.0 C812.8 210.2 811.0 213.2 808.0 217.5 C805.0 221.8 800.2 228.9 796.4 232.5 C792.6 236.1 789.1 237.2 785.4 238.9 C781.7 240.6 778.0 242.0 774.3 242.9 C770.6 243.8 766.9 243.3 763.2 244.2 C759.5 245.0 756.1 246.3 752.1 248.0 C748.1 249.7 743.7 252.4 739.0 254.5 C734.3 256.6 727.7 259.4 724.0 260.5 C720.3 261.6 718.8 261.0 717.0 261.0 C715.2 261.0 713.7 260.6 713.0 260.5 C711.7 261.6 708.0 264.2 705.0 267.0 C702.0 269.8 698.7 274.4 695.0 277.5 C691.3 280.6 687.7 283.3 683.0 285.5 C678.3 287.7 672.3 289.1 667.0 290.8 C661.7 292.6 656.3 293.5 651.0 296.0 C645.7 298.5 640.3 302.6 635.0 306.0 C629.7 309.4 624.2 314.1 619.0 316.5 C613.8 318.9 607.9 320.3 604.0 320.6 C600.1 320.9 597.5 320.0 595.5 318.5 C593.5 317.0 592.5 314.6 591.8 311.5 C591.0 308.4 591.3 305.2 591.0 300.0 C590.7 294.8 590.6 286.7 589.8 280.0 C589.0 273.3 587.3 266.2 586.4 260.0 C585.5 253.8 584.6 248.0 584.2 243.0 C583.9 238.0 583.7 235.5 584.3 230.0 C584.9 224.5 586.0 216.3 588.0 210.0 C590.0 203.7 592.6 197.3 596.0 192.0 C599.4 186.7 604.0 181.6 608.5 178.0 C613.0 174.4 617.6 172.2 623.0 170.5 C628.4 168.8 632.3 168.0 641.0 167.5 C649.7 167.0 665.3 167.1 675.0 167.5 C684.7 167.9 694.0 169.2 699.0 170.0 C704.0 170.8 703.2 171.2 705.0 172.0 C706.8 172.8 708.8 174.5 709.5 175.0 Z" fill="none" stroke="#523256" stroke-width="1.25" stroke-linejoin="round"/>
<path d="M818.5 181.0 C818.7 182.3 819.8 186.2 819.8 189.0 C819.8 191.8 819.2 195.0 818.3 198.0 C817.4 201.0 816.2 203.8 814.5 207.0 C812.8 210.2 811.0 213.2 808.0 217.5 C805.0 221.8 800.2 228.9 796.4 232.5 C792.6 236.1 789.1 237.2 785.4 238.9 C781.7 240.6 778.0 242.0 774.3 242.9 C770.6 243.8 766.9 243.3 763.2 244.2 C759.5 245.0 756.1 246.3 752.1 248.0 C748.1 249.7 743.7 252.4 739.0 254.5 C734.3 256.6 727.7 259.4 724.0 260.5 C720.3 261.6 718.8 261.0 717.0 261.0 C715.2 261.0 713.7 260.6 713.0 260.5" fill="none" stroke="#523256" stroke-width="1.9" stroke-linecap="round"/><path d="M713.0 260.5 C711.7 261.6 708.0 264.2 705.0 267.0 C702.0 269.8 698.7 274.4 695.0 277.5 C691.3 280.6 687.7 283.3 683.0 285.5 C678.3 287.7 672.3 289.1 667.0 290.8 C661.7 292.6 656.3 293.5 651.0 296.0 C645.7 298.5 640.3 302.6 635.0 306.0 C629.7 309.4 624.2 314.1 619.0 316.5 C613.8 318.9 607.9 320.3 604.0 320.6 C600.1 320.9 597.5 320.0 595.5 318.5 C593.5 317.0 592.5 314.6 591.8 311.5 C591.0 308.4 591.3 305.2 591.0 300.0 C590.7 294.8 590.0 283.3 589.8 280.0" fill="none" stroke="#523256" stroke-width="1.9" stroke-linecap="round"/>
</g>

<!-- cirrhosis -->
<g>
<path d="M413.0 330.5 A8.8 8.8 0 0 1 422.9 327.5 A12.6 12.6 0 0 1 433.9 326.2 A13.4 13.4 0 0 1 445.4 327.5 A14.9 14.9 0 0 1 457.9 326.6 A9.1 9.1 0 0 1 468.9 328.6 A14.7 14.7 0 0 1 480.9 329.3 A5.2 5.2 0 0 1 486.8 327.4 A8.8 8.8 0 0 1 495.8 325.3 A13.5 13.5 0 0 1 508.2 323.4 A12.8 12.8 0 0 1 518.8 323.2 A11.4 11.4 0 0 1 530.3 320.2 A8.3 8.3 0 0 1 537.0 319.2 A9.7 9.7 0 0 1 546.2 320.0 A7.1 7.1 0 0 1 552.5 324.2 A9.2 9.2 0 0 1 556.7 333.0 A8.7 8.7 0 0 1 556.6 342.9 A5.1 5.1 0 0 1 555.1 348.8 A6.5 6.5 0 0 1 553.6 356.2 A8.8 8.8 0 0 1 551.8 363.9 A15.5 15.5 0 0 1 548.0 375.7 A9.9 9.9 0 0 1 542.5 385.6 A5.8 5.8 0 0 1 537.8 391.0 A14.4 14.4 0 0 1 528.7 398.1 A7.2 7.2 0 0 1 522.7 401.7 A10.1 10.1 0 0 1 513.4 406.3 A6.2 6.2 0 0 1 507.0 408.6 A6.4 6.4 0 0 1 501.3 410.5 A14.2 14.2 0 0 1 489.8 414.5 A7.5 7.5 0 0 1 482.9 417.1 A7.4 7.4 0 0 1 476.0 420.3 A10.6 10.6 0 0 1 464.5 426.0 A14.6 14.6 0 0 1 453.2 430.2 A6.5 6.5 0 0 1 445.4 432.2 A12.9 12.9 0 0 1 434.2 437.9 A11.5 11.5 0 0 1 426.7 444.2 A9.2 9.2 0 0 1 418.7 451.4 A8.4 8.4 0 0 1 412.7 455.8 A15.4 15.4 0 0 1 402.0 462.4 A11.7 11.7 0 0 1 391.9 466.0 A14.7 14.7 0 0 1 380.0 470.5 A10.4 10.4 0 0 1 369.4 476.8 A8.1 8.1 0 0 1 362.3 480.5 A7.4 7.4 0 0 1 354.7 484.4 A8.5 8.5 0 0 1 348.3 487.7 A6.5 6.5 0 0 1 342.3 491.2 A6.5 6.5 0 0 1 336.9 494.9 A10.1 10.1 0 0 1 330.2 499.4 A12.0 12.0 0 0 1 321.1 504.0 A7.4 7.4 0 0 1 315.2 504.7 A10.6 10.6 0 0 1 307.0 498.2 A8.5 8.5 0 0 1 303.0 490.9 A9.2 9.2 0 0 1 300.3 483.1 A11.9 11.9 0 0 1 298.7 471.5 A8.7 8.7 0 0 1 298.2 462.2 A8.1 8.1 0 0 1 297.8 454.0 A8.1 8.1 0 0 1 296.7 444.7 A10.6 10.6 0 0 1 294.0 434.1 A8.0 8.0 0 0 1 292.5 427.9 A15.8 15.8 0 0 1 290.3 415.3 A6.7 6.7 0 0 1 289.4 409.1 A11.5 11.5 0 0 1 289.4 398.0 A11.3 11.3 0 0 1 291.4 386.2 A5.1 5.1 0 0 1 292.6 380.2 A10.6 10.6 0 0 1 296.2 369.3 A9.9 9.9 0 0 1 300.1 361.7 A12.0 12.0 0 0 1 305.6 353.3 A5.8 5.8 0 0 1 309.4 348.5 A7.3 7.3 0 0 1 313.8 344.0 A8.3 8.3 0 0 1 319.5 339.5 A14.1 14.1 0 0 1 330.5 333.2 A8.1 8.1 0 0 1 337.4 330.4 A12.9 12.9 0 0 1 348.2 327.4 A12.0 12.0 0 0 1 360.5 325.1 A14.1 14.1 0 0 1 373.1 324.2 A7.8 7.8 0 0 1 381.5 324.4 A8.6 8.6 0 0 1 389.9 325.1 A11.1 11.1 0 0 1 399.5 326.4 A15.7 15.7 0 0 1 413.0 330.5 Z" fill="#9b6058"/>
<g clip-path="url(#cC)"><rect x="280" y="310" width="290" height="200" fill="url(#gC1)"/>
<path d="M363.1 467.7A5.5 5.5 0 0 1 356.0 473.4M477.0 332.6A8.4 8.4 0 0 1 491.8 339.0M486.3 400.5A6.3 6.3 0 0 1 474.6 399.6M511.6 390.6A5.7 5.7 0 0 1 504.5 399.0M313.3 457.1A6.3 6.3 0 0 1 310.7 448.3M538.0 350.7A8.2 8.2 0 0 1 529.4 359.2M508.1 372.7A6.5 6.5 0 0 1 499.4 381.2M432.4 424.6A7.5 7.5 0 0 1 419.7 429.3M478.2 412.2A7.2 7.2 0 0 1 465.6 416.5M542.6 362.9A6.6 6.6 0 0 1 539.1 373.6M303.9 429.6A7.5 7.5 0 0 1 301.2 417.8M308.4 414.3A8.4 8.4 0 0 1 300.6 400.1M543.3 322.5A7.6 7.6 0 0 1 543.5 337.0M298.9 401.2A5.5 5.5 0 0 1 302.8 391.5M307.5 373.5A7.1 7.1 0 0 1 304.9 361.5M500.3 381.3A6.7 6.7 0 0 1 492.1 388.6M303.6 450.8A6.4 6.4 0 0 1 301.2 441.8M417.6 435.9A6.6 6.6 0 0 1 405.8 440.3M510.3 338.7A7.1 7.1 0 0 1 523.4 341.8M471.6 390.7A6.5 6.5 0 0 1 461.5 398.2M533.6 362.5A6.6 6.6 0 0 1 527.0 370.8M313.7 440.5A5.9 5.9 0 0 1 312.5 432.0M519.5 326.1A5.8 5.8 0 0 1 528.9 330.2M542.9 373.8A8.1 8.1 0 0 1 533.7 383.0M449.5 409.7A8.3 8.3 0 0 1 438.0 414.7M320.6 352.7A5.8 5.8 0 0 1 325.3 343.4M319.0 467.9A8.1 8.1 0 0 1 319.1 454.5M466.1 407.4A6.0 6.0 0 0 1 456.0 410.2M437.6 408.5A6.9 6.9 0 0 1 427.5 407.9M307.4 387.8A8.0 8.0 0 0 1 304.6 372.7M522.4 383.7A7.7 7.7 0 0 1 510.3 387.9M498.6 403.2A8.2 8.2 0 0 1 490.2 412.1M313.3 486.4A8.3 8.3 0 0 1 310.7 473.6M528.6 327.8A7.3 7.3 0 0 1 539.2 327.1M333.5 489.3A6.2 6.2 0 0 1 328.2 498.1M310.9 471.3A7.8 7.8 0 0 1 311.1 456.1M383.6 457.3A8.5 8.5 0 0 1 370.1 465.4M531.1 374.7A7.4 7.4 0 0 1 520.1 379.2M539.3 341.4A6.9 6.9 0 0 1 531.7 348.8M324.0 494.3A7.1 7.1 0 0 1 316.8 502.2M441.1 424.6A6.6 6.6 0 0 1 430.3 429.9M342.2 481.8A8.1 8.1 0 0 1 334.7 493.9M464.9 419.0A7.7 7.7 0 0 1 459.1 428.6M490.8 386.6A6.9 6.9 0 0 1 481.6 393.2M505.1 398.3A5.9 5.9 0 0 1 498.1 407.2M530.3 383.1A6.7 6.7 0 0 1 524.7 391.6M518.9 348.5A7.4 7.4 0 0 1 529.7 346.3M546.3 355.2A5.7 5.7 0 0 1 547.2 364.5M499.3 368.0A7.6 7.6 0 0 1 491.2 376.7M327.1 481.3A7.8 7.8 0 0 1 316.3 491.7M316.0 491.5A8.1 8.1 0 0 1 302.6 483.4M493.1 328.7A7.3 7.3 0 0 1 503.7 327.6M322.8 457.8A7.8 7.8 0 0 1 323.9 446.5M347.0 470.5A7.3 7.3 0 0 1 339.8 481.9M550.3 337.4A6.9 6.9 0 0 1 546.5 350.0M399.9 456.4A6.2 6.2 0 0 1 389.7 460.0M497.9 395.9A5.8 5.8 0 0 1 489.9 398.6M450.4 419.1A7.5 7.5 0 0 1 437.6 425.6M420.8 445.0A7.7 7.7 0 0 1 407.5 450.5M408.5 450.6A5.8 5.8 0 0 1 397.5 451.8M297.5 418.4A5.6 5.6 0 0 1 291.4 412.9M517.8 365.8A8.2 8.2 0 0 1 510.1 379.4M522.2 350.9A8.4 8.4 0 0 1 514.1 364.2M431.5 397.9A8.2 8.2 0 0 1 419.2 403.8M513.3 364.4A8.0 8.0 0 0 1 501.9 368.6M373.6 461.1A7.2 7.2 0 0 1 360.2 465.4M462.1 398.5A8.1 8.1 0 0 1 446.4 399.9M359.8 477.2A6.5 6.5 0 0 1 348.1 480.7M305.0 438.8A6.7 6.7 0 0 1 299.3 429.8M327.1 478.7A7.5 7.5 0 0 1 324.2 464.5M433.9 437.6A7.9 7.9 0 0 1 422.5 439.6M325.0 447.6A7.7 7.7 0 0 1 318.6 437.9M400.7 334.3A6.9 6.9 0 0 1 413.4 337.4M438.4 413.7A6.9 6.9 0 0 1 427.6 420.0M304.8 460.9A5.6 5.6 0 0 1 300.9 451.1M521.2 338.4A6.6 6.6 0 0 1 533.8 338.9M525.3 394.8A7.7 7.7 0 0 1 513.2 397.9" fill="none" stroke="#5a3049" stroke-width="1.0" stroke-linecap="round"/></g>
<path d="M413.0 330.5 A8.8 8.8 0 0 1 422.9 327.5 A12.6 12.6 0 0 1 433.9 326.2 A13.4 13.4 0 0 1 445.4 327.5 A14.9 14.9 0 0 1 457.9 326.6 A9.1 9.1 0 0 1 468.9 328.6 A14.7 14.7 0 0 1 480.9 329.3 A5.2 5.2 0 0 1 486.8 327.4 A8.8 8.8 0 0 1 495.8 325.3 A13.5 13.5 0 0 1 508.2 323.4 A12.8 12.8 0 0 1 518.8 323.2 A11.4 11.4 0 0 1 530.3 320.2 A8.3 8.3 0 0 1 537.0 319.2 A9.7 9.7 0 0 1 546.2 320.0 A7.1 7.1 0 0 1 552.5 324.2 A9.2 9.2 0 0 1 556.7 333.0 A8.7 8.7 0 0 1 556.6 342.9 A5.1 5.1 0 0 1 555.1 348.8 A6.5 6.5 0 0 1 553.6 356.2 A8.8 8.8 0 0 1 551.8 363.9 A15.5 15.5 0 0 1 548.0 375.7 A9.9 9.9 0 0 1 542.5 385.6 A5.8 5.8 0 0 1 537.8 391.0 A14.4 14.4 0 0 1 528.7 398.1 A7.2 7.2 0 0 1 522.7 401.7 A10.1 10.1 0 0 1 513.4 406.3 A6.2 6.2 0 0 1 507.0 408.6 A6.4 6.4 0 0 1 501.3 410.5 A14.2 14.2 0 0 1 489.8 414.5 A7.5 7.5 0 0 1 482.9 417.1 A7.4 7.4 0 0 1 476.0 420.3 A10.6 10.6 0 0 1 464.5 426.0 A14.6 14.6 0 0 1 453.2 430.2 A6.5 6.5 0 0 1 445.4 432.2 A12.9 12.9 0 0 1 434.2 437.9 A11.5 11.5 0 0 1 426.7 444.2 A9.2 9.2 0 0 1 418.7 451.4 A8.4 8.4 0 0 1 412.7 455.8 A15.4 15.4 0 0 1 402.0 462.4 A11.7 11.7 0 0 1 391.9 466.0 A14.7 14.7 0 0 1 380.0 470.5 A10.4 10.4 0 0 1 369.4 476.8 A8.1 8.1 0 0 1 362.3 480.5 A7.4 7.4 0 0 1 354.7 484.4 A8.5 8.5 0 0 1 348.3 487.7 A6.5 6.5 0 0 1 342.3 491.2 A6.5 6.5 0 0 1 336.9 494.9 A10.1 10.1 0 0 1 330.2 499.4 A12.0 12.0 0 0 1 321.1 504.0 A7.4 7.4 0 0 1 315.2 504.7 A10.6 10.6 0 0 1 307.0 498.2 A8.5 8.5 0 0 1 303.0 490.9 A9.2 9.2 0 0 1 300.3 483.1 A11.9 11.9 0 0 1 298.7 471.5 A8.7 8.7 0 0 1 298.2 462.2 A8.1 8.1 0 0 1 297.8 454.0 A8.1 8.1 0 0 1 296.7 444.7 A10.6 10.6 0 0 1 294.0 434.1 A8.0 8.0 0 0 1 292.5 427.9 A15.8 15.8 0 0 1 290.3 415.3 A6.7 6.7 0 0 1 289.4 409.1 A11.5 11.5 0 0 1 289.4 398.0 A11.3 11.3 0 0 1 291.4 386.2 A5.1 5.1 0 0 1 292.6 380.2 A10.6 10.6 0 0 1 296.2 369.3 A9.9 9.9 0 0 1 300.1 361.7 A12.0 12.0 0 0 1 305.6 353.3 A5.8 5.8 0 0 1 309.4 348.5 A7.3 7.3 0 0 1 313.8 344.0 A8.3 8.3 0 0 1 319.5 339.5 A14.1 14.1 0 0 1 330.5 333.2 A8.1 8.1 0 0 1 337.4 330.4 A12.9 12.9 0 0 1 348.2 327.4 A12.0 12.0 0 0 1 360.5 325.1 A14.1 14.1 0 0 1 373.1 324.2 A7.8 7.8 0 0 1 381.5 324.4 A8.6 8.6 0 0 1 389.9 325.1 A11.1 11.1 0 0 1 399.5 326.4 A15.7 15.7 0 0 1 413.0 330.5 Z" fill="none" stroke="#5a3049" stroke-width="1.45" stroke-linejoin="round"/>
</g>

<!-- arrows -->
<line x1="265.0" y1="76.0" x2="181.0" y2="146.0" stroke="#111" stroke-width="2.8"/><path d="M172.5 153.0 L179.6 139.4 L181.0 146.0 L187.2 148.4 Z" fill="#111"/><line x1="185.0" y1="160.0" x2="268.6" y2="90.1" stroke="#111" stroke-width="2.8"/><path d="M277.0 83.0 L269.9 96.6 L268.6 90.1 L262.3 87.6 Z" fill="#111"/><line x1="519.5" y1="76.0" x2="602.0" y2="144.0" stroke="#111" stroke-width="2.8"/><path d="M610.5 151.0 L595.8 146.5 L602.0 144.0 L603.3 137.4 Z" fill="#111"/><line x1="599.0" y1="160.0" x2="516.0" y2="91.5" stroke="#111" stroke-width="2.8"/><path d="M507.5 84.5 L522.2 89.0 L516.0 91.5 L514.7 98.1 Z" fill="#111"/><line x1="563.6" y1="195.4" x2="297.6" y2="195.4" stroke="#111" stroke-width="2.8" stroke-dasharray="7.1 4.73" stroke-dashoffset="0"/><path d="M286.6 195.4 L300.8 189.5 L297.6 195.4 L300.8 201.3 Z" fill="#111"/><line x1="289.0" y1="215.4" x2="558.0" y2="215.4" stroke="#111" stroke-width="2.8"/><path d="M569.0 215.4 L554.8 221.3 L558.0 215.4 L554.8 209.5 Z" fill="#111"/><line x1="567.0" y1="239.5" x2="548.8" y2="255.0" stroke="#111" stroke-width="2.8"/><line x1="513.0" y1="288.8" x2="491.3" y2="307.8" stroke="#111" stroke-width="2.8"/><path d="M483.0 315.0 L489.8 301.2 L491.3 307.8 L497.6 310.1 Z" fill="#111"/><line x1="172.0" y1="281.0" x2="207.5" y2="306.0" stroke="#111" stroke-width="2.8"/><line x1="252.0" y1="338.8" x2="276.7" y2="354.2" stroke="#111" stroke-width="2.8"/><path d="M286.0 360.0 L270.8 357.5 L276.7 354.2 L277.1 347.5 Z" fill="#111"/>

<!-- labels -->
<text class="h" transform="translate(349.5 45.5) rotate(0.03) scale(1 1.02)">NORMAL LIVER</text>
<text class="h" transform="translate(35.7 205) rotate(0.03) scale(1 1.02)">STEATOSIS</text>
<text class="b" transform="translate(35.7 223.8) rotate(0.03) scale(1 1.02)">Fatty change</text>
<text class="b" transform="translate(35.7 238.8) rotate(0.03) scale(1 1.02)">Perivenular fibrosis</text>
<text class="h" transform="translate(609.6 202.2) rotate(0.03) scale(1 1.02)" letter-spacing="0.1">HEPATITIS</text>
<text class="b" transform="translate(609.6 219.2) rotate(0.03) scale(1 1.02)">Liver cell necrosis</text>
<text class="b" transform="translate(609.6 234.2) rotate(0.03) scale(1 1.02)">Inflammation</text>
<text class="b" transform="translate(609.6 249.2) rotate(0.03) scale(1 1.02)">Mallory bodies</text>
<text class="b" transform="translate(609.6 264.2) rotate(0.03) scale(1 1.02)">Fatty change</text>
<text class="h" transform="translate(326 369.3) rotate(0.03) scale(1 1.02)">CIRRHOSIS</text>
<text class="b" transform="translate(326 387.5) rotate(0.03) scale(1 1.02)">Fibrosis</text>
<text class="b" transform="translate(326 403.0) rotate(0.03) scale(1 1.02)">Hyperplastic</text>
<text class="b" transform="translate(341 418.0) rotate(0.03) scale(1 1.02)">nodules</text>
<text class="l" transform="translate(145.7 115.5) rotate(0.03)">Exposure</text>
<text class="l" transform="translate(222.5 143) rotate(0.03)">Abstinence</text>
<text class="l" transform="translate(584.2 97) rotate(0.03)">Severe</text>
<text class="l" transform="translate(584.2 112) rotate(0.03)">exposure</text>
<text class="l" transform="translate(494.7 142.5) rotate(0.03)">Abstinence</text>
<text class="l" transform="translate(388.7 187) rotate(0.03)">Abstinence</text>
<text class="l" transform="translate(370.5 232.5) rotate(0.03)">Severe exposure</text>
<text class="l" transform="translate(506.7 268.8) rotate(0.03)">Repeated</text>
<text class="l" transform="translate(514.7 283.8) rotate(0.03)">attacks</text>
<text class="l" transform="translate(190.7 321) rotate(0.03)">Continued</text>
<text class="l" transform="translate(194 336) rotate(0.03)">exposure</text>
</svg>
</body></html>
